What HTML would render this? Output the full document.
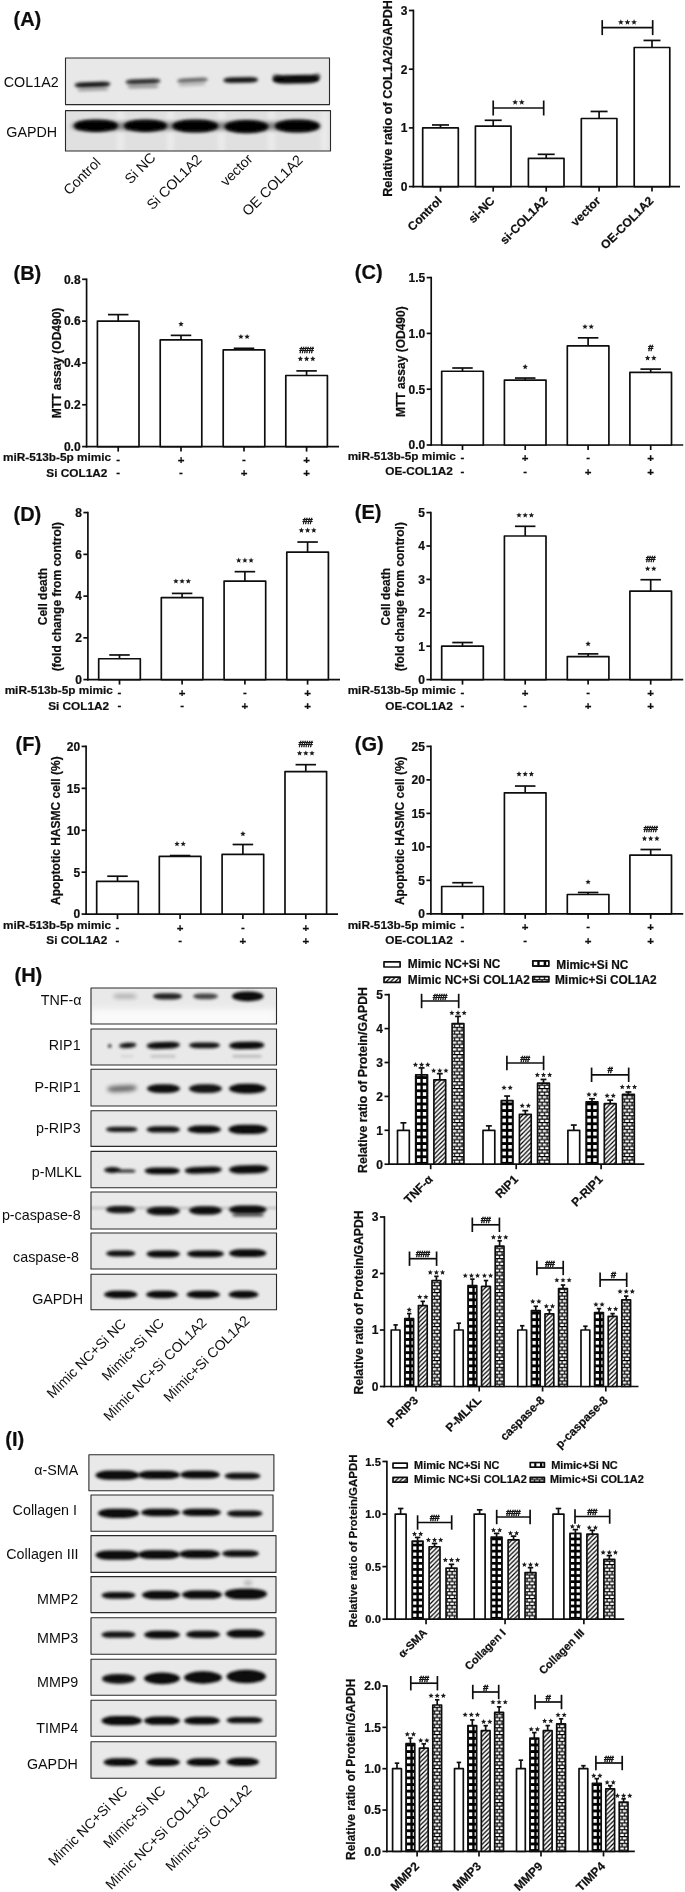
<!DOCTYPE html>
<html><head><meta charset="utf-8"><title>Figure</title>
<style>html,body{margin:0;padding:0;background:#fff}svg{display:block}</style></head>
<body>
<svg width="685" height="1892" viewBox="0 0 685 1892" font-family="'Liberation Sans', sans-serif">
<defs>
<filter id="b1" x="-30%" y="-80%" width="160%" height="260%"><feGaussianBlur stdDeviation="1.35"/></filter>
<filter id="b15" x="-30%" y="-80%" width="160%" height="260%"><feGaussianBlur stdDeviation="1.6"/></filter>
<filter id="b2" x="-30%" y="-80%" width="160%" height="260%"><feGaussianBlur stdDeviation="2"/></filter>
<filter id="b3" x="-30%" y="-80%" width="160%" height="260%"><feGaussianBlur stdDeviation="3"/></filter>
<filter id="soft"><feGaussianBlur stdDeviation="0.35"/></filter>
<pattern id="pgrid" width="6.4" height="6.8" patternUnits="userSpaceOnUse" x="0" y="0">
  <rect width="6.4" height="6.8" fill="#000"/><rect x="1.5" y="1.6" width="3.6" height="3.6" fill="#fff"/>
</pattern>
<pattern id="lgrid" width="5.6" height="20" patternUnits="userSpaceOnUse" x="1.2" y="0">
  <rect width="5.6" height="20" fill="#000"/><rect x="1.4" y="0" width="3.4" height="20" fill="#fff"/>
</pattern>
<pattern id="pdiag" width="4.5" height="4.5" patternUnits="userSpaceOnUse">
  <rect width="4.5" height="4.5" fill="#fff"/>
  <path d="M-1,1 L1,-1 M-0.5,5 L5,-0.5 M3.5,5.5 L5.5,3.5" stroke="#000" stroke-width="1.25"/>
</pattern>
<pattern id="pbrick" width="5" height="6.8" patternUnits="userSpaceOnUse" x="0.8" y="0">
  <rect width="5" height="6.8" fill="#fff"/>
  <path d="M0,0.6 H5 M0,4 H5" stroke="#000" stroke-width="1.25"/>
  <path d="M1.2,0.6 V4 M3.7,4 V6.8 M3.7,0 V0.6" stroke="#000" stroke-width="1.2"/>
</pattern>
</defs>
<rect width="685" height="1892" fill="#fff"/>
<g filter="url(#soft)">
<text x="13.50" y="25.50" font-size="20" font-weight="bold" stroke="#111" stroke-width="0.22" text-anchor="start" fill="#111">(A)</text>
<clipPath id="c2"><rect x="65.5" y="58" width="264" height="46.6"/></clipPath>
<rect x="65.50" y="58.00" width="264.00" height="46.60" fill="#e8e8e8" stroke="none" stroke-width="0" stroke-linejoin="round"/>
<g clip-path="url(#c2)">
<rect x="74.50" y="82.00" width="36.00" height="5.20" rx="7.80" ry="2.60" fill="#000" opacity="0.9" filter="url(#b1)" transform="rotate(-2 92.5 84.6)"/>
<rect x="77.50" y="88.10" width="31.00" height="3.00" rx="4.50" ry="1.50" fill="#000" opacity="0.3" filter="url(#b1)" transform="rotate(-2 93 89.6)"/>
<rect x="125.50" y="79.10" width="35.00" height="4.80" rx="7.20" ry="2.40" fill="#000" opacity="0.8" filter="url(#b1)" transform="rotate(-2 143 81.5)"/>
<rect x="127.50" y="84.75" width="31.00" height="3.50" rx="5.25" ry="1.75" fill="#000" opacity="0.35" filter="url(#b1)" transform="rotate(-1 143 86.5)"/>
<rect x="177.00" y="78.10" width="31.00" height="4.20" rx="6.30" ry="2.10" fill="#000" opacity="0.55" filter="url(#b1)" transform="rotate(-3 192.5 80.2)"/>
<rect x="178.50" y="83.00" width="27.00" height="3.00" rx="4.50" ry="1.50" fill="#000" opacity="0.2" filter="url(#b1)" transform="rotate(-3 192 84.5)"/>
<rect x="223.20" y="77.20" width="35.00" height="5.60" rx="8.40" ry="2.80" fill="#000" opacity="0.92" filter="url(#b1)" transform="rotate(-1 240.7 80)"/>
<rect x="272.50" y="74.90" width="47.00" height="8.60" rx="12.90" ry="4.30" fill="#000" opacity="0.97" filter="url(#b1)" transform="rotate(-1 296 79.2)"/>
<rect x="272.50" y="74.50" width="9.00" height="6.00" rx="4.50" ry="3.00" fill="#000" opacity="0.6" filter="url(#b1)" transform="rotate(12 277 77.5)"/>
<rect x="311.50" y="73.80" width="9.00" height="6.00" rx="4.50" ry="3.00" fill="#000" opacity="0.6" filter="url(#b1)" transform="rotate(-14 316 76.8)"/>
</g>
<rect x="65.50" y="58.00" width="264.00" height="46.60" fill="none" stroke="#2a2a2a" stroke-width="1.1" stroke-linejoin="round"/>
<clipPath id="c17"><rect x="65.5" y="110.6" width="265" height="40.4"/></clipPath>
<rect x="65.50" y="110.60" width="265.00" height="40.40" fill="#e0e0e0" stroke="none" stroke-width="0" stroke-linejoin="round"/>
<g clip-path="url(#c17)">
<rect x="117" y="110" width="7" height="42" fill="#f4f4f4" opacity=".55" filter="url(#b2)"/><rect x="167" y="110" width="7" height="42" fill="#f4f4f4" opacity=".55" filter="url(#b2)"/><rect x="218" y="110" width="7" height="42" fill="#f4f4f4" opacity=".55" filter="url(#b2)"/><rect x="268" y="110" width="7" height="42" fill="#f4f4f4" opacity=".55" filter="url(#b2)"/><rect x="321" y="110" width="7" height="42" fill="#f4f4f4" opacity=".55" filter="url(#b2)"/>
<rect x="74.00" y="119.45" width="44.00" height="12.50" rx="18.75" ry="6.25" fill="#000" opacity="0.97" filter="url(#b1)"/>
<rect x="124.00" y="119.45" width="43.00" height="12.50" rx="18.75" ry="6.25" fill="#000" opacity="0.97" filter="url(#b1)"/>
<rect x="172.30" y="119.60" width="46.00" height="12.80" rx="19.20" ry="6.40" fill="#000" opacity="0.97" filter="url(#b1)"/>
<rect x="224.50" y="120.00" width="44.00" height="13.20" rx="19.80" ry="6.60" fill="#000" opacity="0.97" filter="url(#b1)"/>
<rect x="274.80" y="119.60" width="45.00" height="12.80" rx="19.20" ry="6.40" fill="#000" opacity="0.97" filter="url(#b1)"/>
<rect x="71.00" y="122.00" width="250.00" height="8.00" rx="12.00" ry="4.00" fill="#000" opacity="0.45" filter="url(#b2)"/>
</g>
<rect x="65.50" y="110.60" width="265.00" height="40.40" fill="none" stroke="#2a2a2a" stroke-width="1.1" stroke-linejoin="round"/>
<text x="3.80" y="87.30" font-size="14.3" text-anchor="start" fill="#111">COL1A2</text>
<text x="6.30" y="136.80" font-size="14.3" text-anchor="start" fill="#111">GAPDH</text>
<text x="101.50" y="163.50" font-size="14.2" text-anchor="end" fill="#111" transform="rotate(-45 101.50 163.50)">Control</text>
<text x="156.60" y="158.60" font-size="14.2" text-anchor="end" fill="#111" transform="rotate(-45 156.60 158.60)">Si NC</text>
<text x="202.70" y="160.40" font-size="14.2" text-anchor="end" fill="#111" transform="rotate(-45 202.70 160.40)">Si COL1A2</text>
<text x="253.50" y="159.80" font-size="14.2" text-anchor="end" fill="#111" transform="rotate(-45 253.50 159.80)">vector</text>
<text x="303.70" y="161.00" font-size="14.2" text-anchor="end" fill="#111" transform="rotate(-45 303.70 161.00)">OE COL1A2</text>
<line x1="413.40" y1="9.65" x2="413.40" y2="187.45" stroke="#111" stroke-width="1.7"/>
<line x1="412.55" y1="186.60" x2="680.00" y2="186.60" stroke="#111" stroke-width="1.7"/>
<line x1="408.90" y1="186.60" x2="413.40" y2="186.60" stroke="#111" stroke-width="1.7"/>
<text x="407.40" y="190.92" font-size="12" font-weight="bold" stroke="#111" stroke-width="0.22" text-anchor="end" fill="#111">0</text>
<line x1="408.90" y1="127.90" x2="413.40" y2="127.90" stroke="#111" stroke-width="1.7"/>
<text x="407.40" y="132.22" font-size="12" font-weight="bold" stroke="#111" stroke-width="0.22" text-anchor="end" fill="#111">1</text>
<line x1="408.90" y1="69.20" x2="413.40" y2="69.20" stroke="#111" stroke-width="1.7"/>
<text x="407.40" y="73.52" font-size="12" font-weight="bold" stroke="#111" stroke-width="0.22" text-anchor="end" fill="#111">2</text>
<line x1="408.90" y1="10.50" x2="413.40" y2="10.50" stroke="#111" stroke-width="1.7"/>
<text x="407.40" y="14.82" font-size="12" font-weight="bold" stroke="#111" stroke-width="0.22" text-anchor="end" fill="#111">3</text>
<line x1="440.50" y1="124.97" x2="440.50" y2="127.90" stroke="#111" stroke-width="1.7"/>
<line x1="432.00" y1="124.97" x2="449.00" y2="124.97" stroke="#111" stroke-width="1.7"/>
<rect x="422.70" y="127.90" width="35.60" height="58.70" fill="#fff" stroke="#111" stroke-width="1.7" stroke-linejoin="round"/>
<line x1="440.50" y1="186.60" x2="440.50" y2="191.60" stroke="#111" stroke-width="1.7"/>
<line x1="493.20" y1="120.27" x2="493.20" y2="126.14" stroke="#111" stroke-width="1.7"/>
<line x1="484.70" y1="120.27" x2="501.70" y2="120.27" stroke="#111" stroke-width="1.7"/>
<rect x="475.40" y="126.14" width="35.60" height="60.46" fill="#fff" stroke="#111" stroke-width="1.7" stroke-linejoin="round"/>
<line x1="493.20" y1="186.60" x2="493.20" y2="191.60" stroke="#111" stroke-width="1.7"/>
<line x1="546.20" y1="154.31" x2="546.20" y2="158.42" stroke="#111" stroke-width="1.7"/>
<line x1="537.70" y1="154.31" x2="554.70" y2="154.31" stroke="#111" stroke-width="1.7"/>
<rect x="528.40" y="158.42" width="35.60" height="28.18" fill="#fff" stroke="#111" stroke-width="1.7" stroke-linejoin="round"/>
<line x1="546.20" y1="186.60" x2="546.20" y2="191.60" stroke="#111" stroke-width="1.7"/>
<line x1="599.10" y1="111.46" x2="599.10" y2="118.51" stroke="#111" stroke-width="1.7"/>
<line x1="590.60" y1="111.46" x2="607.60" y2="111.46" stroke="#111" stroke-width="1.7"/>
<rect x="581.30" y="118.51" width="35.60" height="68.09" fill="#fff" stroke="#111" stroke-width="1.7" stroke-linejoin="round"/>
<line x1="599.10" y1="186.60" x2="599.10" y2="191.60" stroke="#111" stroke-width="1.7"/>
<line x1="652.00" y1="40.44" x2="652.00" y2="47.48" stroke="#111" stroke-width="1.7"/>
<line x1="643.50" y1="40.44" x2="660.50" y2="40.44" stroke="#111" stroke-width="1.7"/>
<rect x="634.20" y="47.48" width="35.60" height="139.12" fill="#fff" stroke="#111" stroke-width="1.7" stroke-linejoin="round"/>
<line x1="652.00" y1="186.60" x2="652.00" y2="191.60" stroke="#111" stroke-width="1.7"/>
<line x1="493.20" y1="108.00" x2="543.70" y2="108.00" stroke="#111" stroke-width="1.7"/>
<line x1="493.20" y1="100.50" x2="493.20" y2="115.50" stroke="#111" stroke-width="1.7"/>
<line x1="543.70" y1="100.50" x2="543.70" y2="115.50" stroke="#111" stroke-width="1.7"/>
<polygon points="515.15,99.25 515.94,101.16 518.00,101.32 516.43,102.67 516.91,104.68 515.15,103.60 513.39,104.68 513.87,102.67 512.30,101.32 514.36,101.16" fill="#1a1a1a"/>
<polygon points="521.75,99.25 522.54,101.16 524.60,101.32 523.03,102.67 523.51,104.68 521.75,103.60 519.99,104.68 520.47,102.67 518.90,101.32 520.96,101.16" fill="#1a1a1a"/>
<line x1="602.20" y1="27.60" x2="652.70" y2="27.60" stroke="#111" stroke-width="1.7"/>
<line x1="602.20" y1="20.10" x2="602.20" y2="35.10" stroke="#111" stroke-width="1.7"/>
<line x1="652.70" y1="20.10" x2="652.70" y2="35.10" stroke="#111" stroke-width="1.7"/>
<polygon points="620.85,19.25 621.64,21.16 623.70,21.32 622.13,22.67 622.61,24.68 620.85,23.60 619.09,24.68 619.57,22.67 618.00,21.32 620.06,21.16" fill="#1a1a1a"/>
<polygon points="627.45,19.25 628.24,21.16 630.30,21.32 628.73,22.67 629.21,24.68 627.45,23.60 625.69,24.68 626.17,22.67 624.60,21.32 626.66,21.16" fill="#1a1a1a"/>
<polygon points="634.05,19.25 634.84,21.16 636.90,21.32 635.33,22.67 635.81,24.68 634.05,23.60 632.29,24.68 632.77,22.67 631.20,21.32 633.26,21.16" fill="#1a1a1a"/>
<text x="391.60" y="196.80" font-size="12.6" font-weight="bold" stroke="#111" stroke-width="0.22" text-anchor="start" fill="#111" transform="rotate(-90 391.60 196.80)">Relative ratio of COL1A2/GAPDH</text>
<text x="442.70" y="201.50" font-size="12" font-weight="bold" stroke="#111" stroke-width="0.22" text-anchor="end" fill="#111" transform="rotate(-45 442.70 201.50)">Control</text>
<text x="495.40" y="201.50" font-size="12" font-weight="bold" stroke="#111" stroke-width="0.22" text-anchor="end" fill="#111" transform="rotate(-45 495.40 201.50)">si-NC</text>
<text x="548.40" y="201.50" font-size="12" font-weight="bold" stroke="#111" stroke-width="0.22" text-anchor="end" fill="#111" transform="rotate(-45 548.40 201.50)">si-COL1A2</text>
<text x="601.30" y="201.50" font-size="12" font-weight="bold" stroke="#111" stroke-width="0.22" text-anchor="end" fill="#111" transform="rotate(-45 601.30 201.50)">vector</text>
<text x="654.20" y="201.50" font-size="12" font-weight="bold" stroke="#111" stroke-width="0.22" text-anchor="end" fill="#111" transform="rotate(-45 654.20 201.50)">OE-COL1A2</text>
<text x="13.50" y="280.30" font-size="20" font-weight="bold" stroke="#111" stroke-width="0.22" text-anchor="start" fill="#111">(B)</text>
<line x1="86.60" y1="278.45" x2="86.60" y2="447.45" stroke="#111" stroke-width="1.7"/>
<line x1="85.75" y1="446.60" x2="339.00" y2="446.60" stroke="#111" stroke-width="1.7"/>
<line x1="82.10" y1="446.60" x2="86.60" y2="446.60" stroke="#111" stroke-width="1.7"/>
<text x="80.60" y="450.92" font-size="12" font-weight="bold" stroke="#111" stroke-width="0.22" text-anchor="end" fill="#111">0.0</text>
<line x1="82.10" y1="404.78" x2="86.60" y2="404.78" stroke="#111" stroke-width="1.7"/>
<text x="80.60" y="409.10" font-size="12" font-weight="bold" stroke="#111" stroke-width="0.22" text-anchor="end" fill="#111">0.2</text>
<line x1="82.10" y1="362.95" x2="86.60" y2="362.95" stroke="#111" stroke-width="1.7"/>
<text x="80.60" y="367.27" font-size="12" font-weight="bold" stroke="#111" stroke-width="0.22" text-anchor="end" fill="#111">0.4</text>
<line x1="82.10" y1="321.12" x2="86.60" y2="321.12" stroke="#111" stroke-width="1.7"/>
<text x="80.60" y="325.44" font-size="12" font-weight="bold" stroke="#111" stroke-width="0.22" text-anchor="end" fill="#111">0.6</text>
<line x1="82.10" y1="279.30" x2="86.60" y2="279.30" stroke="#111" stroke-width="1.7"/>
<text x="80.60" y="283.62" font-size="12" font-weight="bold" stroke="#111" stroke-width="0.22" text-anchor="end" fill="#111">0.8</text>
<line x1="118.20" y1="314.64" x2="118.20" y2="321.12" stroke="#111" stroke-width="1.7"/>
<line x1="107.95" y1="314.64" x2="128.45" y2="314.64" stroke="#111" stroke-width="1.7"/>
<rect x="97.40" y="321.12" width="41.60" height="125.48" fill="#fff" stroke="#111" stroke-width="1.7" stroke-linejoin="round"/>
<line x1="118.20" y1="446.60" x2="118.20" y2="451.60" stroke="#111" stroke-width="1.7"/>
<line x1="181.00" y1="335.35" x2="181.00" y2="339.95" stroke="#111" stroke-width="1.7"/>
<line x1="170.75" y1="335.35" x2="191.25" y2="335.35" stroke="#111" stroke-width="1.7"/>
<rect x="160.20" y="339.95" width="41.60" height="106.65" fill="#fff" stroke="#111" stroke-width="1.7" stroke-linejoin="round"/>
<line x1="181.00" y1="446.60" x2="181.00" y2="451.60" stroke="#111" stroke-width="1.7"/>
<line x1="244.00" y1="348.31" x2="244.00" y2="349.84" stroke="#111" stroke-width="1.7"/>
<line x1="233.75" y1="348.31" x2="254.25" y2="348.31" stroke="#111" stroke-width="1.7"/>
<rect x="223.20" y="349.84" width="41.60" height="96.76" fill="#fff" stroke="#111" stroke-width="1.7" stroke-linejoin="round"/>
<line x1="244.00" y1="446.60" x2="244.00" y2="451.60" stroke="#111" stroke-width="1.7"/>
<line x1="306.60" y1="370.90" x2="306.60" y2="375.50" stroke="#111" stroke-width="1.7"/>
<line x1="296.35" y1="370.90" x2="316.85" y2="370.90" stroke="#111" stroke-width="1.7"/>
<rect x="285.80" y="375.50" width="41.60" height="71.10" fill="#fff" stroke="#111" stroke-width="1.7" stroke-linejoin="round"/>
<line x1="306.60" y1="446.60" x2="306.60" y2="451.60" stroke="#111" stroke-width="1.7"/>
<polygon points="181.00,321.30 181.75,323.11 183.71,323.27 182.22,324.55 182.68,326.46 181.00,325.43 179.32,326.46 179.78,324.55 178.29,323.27 180.25,323.11" fill="#1a1a1a"/>
<polygon points="240.90,333.90 241.65,335.71 243.61,335.87 242.12,337.15 242.58,339.06 240.90,338.03 239.22,339.06 239.68,337.15 238.19,335.87 240.15,335.71" fill="#1a1a1a"/>
<polygon points="247.10,333.90 247.85,335.71 249.81,335.87 248.32,337.15 248.78,339.06 247.10,338.03 245.42,339.06 245.88,337.15 244.39,335.87 246.35,335.71" fill="#1a1a1a"/>
<text x="306.15" y="353.03" font-size="9.8" font-weight="bold" stroke="#111" stroke-width="0.45" text-anchor="middle" fill="#111" letter-spacing="-0.9">###</text>
<polygon points="300.40,356.00 301.15,357.81 303.11,357.97 301.62,359.25 302.08,361.16 300.40,360.13 298.72,361.16 299.18,359.25 297.69,357.97 299.65,357.81" fill="#1a1a1a"/>
<polygon points="306.60,356.00 307.35,357.81 309.31,357.97 307.82,359.25 308.28,361.16 306.60,360.13 304.92,361.16 305.38,359.25 303.89,357.97 305.85,357.81" fill="#1a1a1a"/>
<polygon points="312.80,356.00 313.55,357.81 315.51,357.97 314.02,359.25 314.48,361.16 312.80,360.13 311.12,361.16 311.58,359.25 310.09,357.97 312.05,357.81" fill="#1a1a1a"/>
<text x="61.00" y="363.00" font-size="12" font-weight="bold" stroke="#111" stroke-width="0.22" text-anchor="middle" fill="#111" transform="rotate(-90 61.00 363.00)">MTT assay (OD490)</text>
<text x="111.10" y="461.00" font-size="11.8" font-weight="bold" stroke="#111" stroke-width="0.22" text-anchor="end" fill="#111">miR-513b-5p mimic</text>
<text x="118.20" y="462.60" font-size="11.5" font-weight="bold" stroke="#111" stroke-width="0.22" text-anchor="middle" fill="#111">-</text>
<text x="181.00" y="463.70" font-size="11.5" font-weight="bold" stroke="#111" stroke-width="0.22" text-anchor="middle" fill="#111">+</text>
<text x="244.00" y="462.60" font-size="11.5" font-weight="bold" stroke="#111" stroke-width="0.22" text-anchor="middle" fill="#111">-</text>
<text x="306.60" y="463.70" font-size="11.5" font-weight="bold" stroke="#111" stroke-width="0.22" text-anchor="middle" fill="#111">+</text>
<text x="107.30" y="476.80" font-size="11.8" font-weight="bold" stroke="#111" stroke-width="0.22" text-anchor="end" fill="#111">Si COL1A2</text>
<text x="118.20" y="475.90" font-size="11.5" font-weight="bold" stroke="#111" stroke-width="0.22" text-anchor="middle" fill="#111">-</text>
<text x="181.00" y="475.90" font-size="11.5" font-weight="bold" stroke="#111" stroke-width="0.22" text-anchor="middle" fill="#111">-</text>
<text x="244.00" y="477.00" font-size="11.5" font-weight="bold" stroke="#111" stroke-width="0.22" text-anchor="middle" fill="#111">+</text>
<text x="306.60" y="477.00" font-size="11.5" font-weight="bold" stroke="#111" stroke-width="0.22" text-anchor="middle" fill="#111">+</text>
<text x="354.80" y="279.20" font-size="20" font-weight="bold" stroke="#111" stroke-width="0.22" text-anchor="start" fill="#111">(C)</text>
<line x1="431.20" y1="276.75" x2="431.20" y2="445.85" stroke="#111" stroke-width="1.7"/>
<line x1="430.35" y1="445.00" x2="683.20" y2="445.00" stroke="#111" stroke-width="1.7"/>
<line x1="426.70" y1="445.00" x2="431.20" y2="445.00" stroke="#111" stroke-width="1.7"/>
<text x="425.20" y="449.32" font-size="12" font-weight="bold" stroke="#111" stroke-width="0.22" text-anchor="end" fill="#111">0.0</text>
<line x1="426.70" y1="389.20" x2="431.20" y2="389.20" stroke="#111" stroke-width="1.7"/>
<text x="425.20" y="393.52" font-size="12" font-weight="bold" stroke="#111" stroke-width="0.22" text-anchor="end" fill="#111">0.5</text>
<line x1="426.70" y1="333.40" x2="431.20" y2="333.40" stroke="#111" stroke-width="1.7"/>
<text x="425.20" y="337.72" font-size="12" font-weight="bold" stroke="#111" stroke-width="0.22" text-anchor="end" fill="#111">1.0</text>
<line x1="426.70" y1="277.60" x2="431.20" y2="277.60" stroke="#111" stroke-width="1.7"/>
<text x="425.20" y="281.92" font-size="12" font-weight="bold" stroke="#111" stroke-width="0.22" text-anchor="end" fill="#111">1.5</text>
<line x1="462.50" y1="368.00" x2="462.50" y2="371.23" stroke="#111" stroke-width="1.7"/>
<line x1="452.25" y1="368.00" x2="472.75" y2="368.00" stroke="#111" stroke-width="1.7"/>
<rect x="441.70" y="371.23" width="41.60" height="73.77" fill="#fff" stroke="#111" stroke-width="1.7" stroke-linejoin="round"/>
<line x1="462.50" y1="445.00" x2="462.50" y2="450.00" stroke="#111" stroke-width="1.7"/>
<line x1="525.20" y1="378.04" x2="525.20" y2="380.05" stroke="#111" stroke-width="1.7"/>
<line x1="514.95" y1="378.04" x2="535.45" y2="378.04" stroke="#111" stroke-width="1.7"/>
<rect x="504.40" y="380.05" width="41.60" height="64.95" fill="#fff" stroke="#111" stroke-width="1.7" stroke-linejoin="round"/>
<line x1="525.20" y1="445.00" x2="525.20" y2="450.00" stroke="#111" stroke-width="1.7"/>
<line x1="588.10" y1="337.86" x2="588.10" y2="345.90" stroke="#111" stroke-width="1.7"/>
<line x1="577.85" y1="337.86" x2="598.35" y2="337.86" stroke="#111" stroke-width="1.7"/>
<rect x="567.30" y="345.90" width="41.60" height="99.10" fill="#fff" stroke="#111" stroke-width="1.7" stroke-linejoin="round"/>
<line x1="588.10" y1="445.00" x2="588.10" y2="450.00" stroke="#111" stroke-width="1.7"/>
<line x1="650.70" y1="369.11" x2="650.70" y2="372.46" stroke="#111" stroke-width="1.7"/>
<line x1="640.45" y1="369.11" x2="660.95" y2="369.11" stroke="#111" stroke-width="1.7"/>
<rect x="629.90" y="372.46" width="41.60" height="72.54" fill="#fff" stroke="#111" stroke-width="1.7" stroke-linejoin="round"/>
<line x1="650.70" y1="445.00" x2="650.70" y2="450.00" stroke="#111" stroke-width="1.7"/>
<polygon points="525.20,364.00 525.95,365.81 527.91,365.97 526.42,367.25 526.88,369.16 525.20,368.13 523.52,369.16 523.98,367.25 522.49,365.97 524.45,365.81" fill="#1a1a1a"/>
<polygon points="585.00,323.90 585.75,325.71 587.71,325.87 586.22,327.15 586.68,329.06 585.00,328.03 583.32,329.06 583.78,327.15 582.29,325.87 584.25,325.71" fill="#1a1a1a"/>
<polygon points="591.20,323.90 591.95,325.71 593.91,325.87 592.42,327.15 592.88,329.06 591.20,328.03 589.52,329.06 589.98,327.15 588.49,325.87 590.45,325.71" fill="#1a1a1a"/>
<text x="650.25" y="350.83" font-size="9.8" font-weight="bold" stroke="#111" stroke-width="0.45" text-anchor="middle" fill="#111" letter-spacing="-0.9">#</text>
<polygon points="647.60,355.30 648.35,357.11 650.31,357.27 648.82,358.55 649.28,360.46 647.60,359.43 645.92,360.46 646.38,358.55 644.89,357.27 646.85,357.11" fill="#1a1a1a"/>
<polygon points="653.80,355.30 654.55,357.11 656.51,357.27 655.02,358.55 655.48,360.46 653.80,359.43 652.12,360.46 652.58,358.55 651.09,357.27 653.05,357.11" fill="#1a1a1a"/>
<text x="405.00" y="361.70" font-size="12" font-weight="bold" stroke="#111" stroke-width="0.22" text-anchor="middle" fill="#111" transform="rotate(-90 405.00 361.70)">MTT assay (OD490)</text>
<text x="455.80" y="459.60" font-size="11.8" font-weight="bold" stroke="#111" stroke-width="0.22" text-anchor="end" fill="#111">miR-513b-5p mimic</text>
<text x="462.50" y="461.30" font-size="11.5" font-weight="bold" stroke="#111" stroke-width="0.22" text-anchor="middle" fill="#111">-</text>
<text x="525.20" y="462.40" font-size="11.5" font-weight="bold" stroke="#111" stroke-width="0.22" text-anchor="middle" fill="#111">+</text>
<text x="588.10" y="461.30" font-size="11.5" font-weight="bold" stroke="#111" stroke-width="0.22" text-anchor="middle" fill="#111">-</text>
<text x="650.70" y="462.40" font-size="11.5" font-weight="bold" stroke="#111" stroke-width="0.22" text-anchor="middle" fill="#111">+</text>
<text x="452.80" y="474.90" font-size="11.8" font-weight="bold" stroke="#111" stroke-width="0.22" text-anchor="end" fill="#111">OE-COL1A2</text>
<text x="462.50" y="474.50" font-size="11.5" font-weight="bold" stroke="#111" stroke-width="0.22" text-anchor="middle" fill="#111">-</text>
<text x="525.20" y="474.50" font-size="11.5" font-weight="bold" stroke="#111" stroke-width="0.22" text-anchor="middle" fill="#111">-</text>
<text x="588.10" y="475.60" font-size="11.5" font-weight="bold" stroke="#111" stroke-width="0.22" text-anchor="middle" fill="#111">+</text>
<text x="650.70" y="475.60" font-size="11.5" font-weight="bold" stroke="#111" stroke-width="0.22" text-anchor="middle" fill="#111">+</text>
<text x="13.50" y="521.00" font-size="20" font-weight="bold" stroke="#111" stroke-width="0.22" text-anchor="start" fill="#111">(D)</text>
<line x1="87.90" y1="511.75" x2="87.90" y2="680.45" stroke="#111" stroke-width="1.7"/>
<line x1="87.05" y1="679.60" x2="340.00" y2="679.60" stroke="#111" stroke-width="1.7"/>
<line x1="83.40" y1="679.60" x2="87.90" y2="679.60" stroke="#111" stroke-width="1.7"/>
<text x="81.90" y="683.92" font-size="12" font-weight="bold" stroke="#111" stroke-width="0.22" text-anchor="end" fill="#111">0</text>
<line x1="83.40" y1="637.85" x2="87.90" y2="637.85" stroke="#111" stroke-width="1.7"/>
<text x="81.90" y="642.17" font-size="12" font-weight="bold" stroke="#111" stroke-width="0.22" text-anchor="end" fill="#111">2</text>
<line x1="83.40" y1="596.10" x2="87.90" y2="596.10" stroke="#111" stroke-width="1.7"/>
<text x="81.90" y="600.42" font-size="12" font-weight="bold" stroke="#111" stroke-width="0.22" text-anchor="end" fill="#111">4</text>
<line x1="83.40" y1="554.35" x2="87.90" y2="554.35" stroke="#111" stroke-width="1.7"/>
<text x="81.90" y="558.67" font-size="12" font-weight="bold" stroke="#111" stroke-width="0.22" text-anchor="end" fill="#111">6</text>
<line x1="83.40" y1="512.60" x2="87.90" y2="512.60" stroke="#111" stroke-width="1.7"/>
<text x="81.90" y="516.92" font-size="12" font-weight="bold" stroke="#111" stroke-width="0.22" text-anchor="end" fill="#111">8</text>
<line x1="119.50" y1="654.97" x2="119.50" y2="658.73" stroke="#111" stroke-width="1.7"/>
<line x1="109.25" y1="654.97" x2="129.75" y2="654.97" stroke="#111" stroke-width="1.7"/>
<rect x="98.70" y="658.73" width="41.60" height="20.88" fill="#fff" stroke="#111" stroke-width="1.7" stroke-linejoin="round"/>
<line x1="119.50" y1="679.60" x2="119.50" y2="684.60" stroke="#111" stroke-width="1.7"/>
<line x1="182.10" y1="593.39" x2="182.10" y2="597.56" stroke="#111" stroke-width="1.7"/>
<line x1="171.85" y1="593.39" x2="192.35" y2="593.39" stroke="#111" stroke-width="1.7"/>
<rect x="161.30" y="597.56" width="41.60" height="82.04" fill="#fff" stroke="#111" stroke-width="1.7" stroke-linejoin="round"/>
<line x1="182.10" y1="679.60" x2="182.10" y2="684.60" stroke="#111" stroke-width="1.7"/>
<line x1="244.90" y1="571.68" x2="244.90" y2="581.07" stroke="#111" stroke-width="1.7"/>
<line x1="234.65" y1="571.68" x2="255.15" y2="571.68" stroke="#111" stroke-width="1.7"/>
<rect x="224.10" y="581.07" width="41.60" height="98.53" fill="#fff" stroke="#111" stroke-width="1.7" stroke-linejoin="round"/>
<line x1="244.90" y1="679.60" x2="244.90" y2="684.60" stroke="#111" stroke-width="1.7"/>
<line x1="307.60" y1="542.03" x2="307.60" y2="552.05" stroke="#111" stroke-width="1.7"/>
<line x1="297.35" y1="542.03" x2="317.85" y2="542.03" stroke="#111" stroke-width="1.7"/>
<rect x="286.80" y="552.05" width="41.60" height="127.55" fill="#fff" stroke="#111" stroke-width="1.7" stroke-linejoin="round"/>
<line x1="307.60" y1="679.60" x2="307.60" y2="684.60" stroke="#111" stroke-width="1.7"/>
<polygon points="175.90,578.40 176.65,580.21 178.61,580.37 177.12,581.65 177.58,583.56 175.90,582.53 174.22,583.56 174.68,581.65 173.19,580.37 175.15,580.21" fill="#1a1a1a"/>
<polygon points="182.10,578.40 182.85,580.21 184.81,580.37 183.32,581.65 183.78,583.56 182.10,582.53 180.42,583.56 180.88,581.65 179.39,580.37 181.35,580.21" fill="#1a1a1a"/>
<polygon points="188.30,578.40 189.05,580.21 191.01,580.37 189.52,581.65 189.98,583.56 188.30,582.53 186.62,583.56 187.08,581.65 185.59,580.37 187.55,580.21" fill="#1a1a1a"/>
<polygon points="238.70,557.60 239.45,559.41 241.41,559.57 239.92,560.85 240.38,562.76 238.70,561.73 237.02,562.76 237.48,560.85 235.99,559.57 237.95,559.41" fill="#1a1a1a"/>
<polygon points="244.90,557.60 245.65,559.41 247.61,559.57 246.12,560.85 246.58,562.76 244.90,561.73 243.22,562.76 243.68,560.85 242.19,559.57 244.15,559.41" fill="#1a1a1a"/>
<polygon points="251.10,557.60 251.85,559.41 253.81,559.57 252.32,560.85 252.78,562.76 251.10,561.73 249.42,562.76 249.88,560.85 248.39,559.57 250.35,559.41" fill="#1a1a1a"/>
<text x="307.15" y="524.33" font-size="9.8" font-weight="bold" stroke="#111" stroke-width="0.45" text-anchor="middle" fill="#111" letter-spacing="-0.9">##</text>
<polygon points="301.40,527.50 302.15,529.31 304.11,529.47 302.62,530.75 303.08,532.66 301.40,531.63 299.72,532.66 300.18,530.75 298.69,529.47 300.65,529.31" fill="#1a1a1a"/>
<polygon points="307.60,527.50 308.35,529.31 310.31,529.47 308.82,530.75 309.28,532.66 307.60,531.63 305.92,532.66 306.38,530.75 304.89,529.47 306.85,529.31" fill="#1a1a1a"/>
<polygon points="313.80,527.50 314.55,529.31 316.51,529.47 315.02,530.75 315.48,532.66 313.80,531.63 312.12,532.66 312.58,530.75 311.09,529.47 313.05,529.31" fill="#1a1a1a"/>
<text x="47.20" y="596.60" font-size="12" font-weight="bold" stroke="#111" stroke-width="0.22" text-anchor="middle" fill="#111" transform="rotate(-90 47.20 596.60)">Cell death</text>
<text x="61.00" y="596.60" font-size="12" font-weight="bold" stroke="#111" stroke-width="0.22" text-anchor="middle" fill="#111" transform="rotate(-90 61.00 596.60)">(fold change from control)</text>
<text x="112.80" y="694.10" font-size="11.8" font-weight="bold" stroke="#111" stroke-width="0.22" text-anchor="end" fill="#111">miR-513b-5p mimic</text>
<text x="119.50" y="695.80" font-size="11.5" font-weight="bold" stroke="#111" stroke-width="0.22" text-anchor="middle" fill="#111">-</text>
<text x="182.10" y="696.90" font-size="11.5" font-weight="bold" stroke="#111" stroke-width="0.22" text-anchor="middle" fill="#111">+</text>
<text x="244.90" y="695.80" font-size="11.5" font-weight="bold" stroke="#111" stroke-width="0.22" text-anchor="middle" fill="#111">-</text>
<text x="307.60" y="696.90" font-size="11.5" font-weight="bold" stroke="#111" stroke-width="0.22" text-anchor="middle" fill="#111">+</text>
<text x="109.10" y="709.60" font-size="11.8" font-weight="bold" stroke="#111" stroke-width="0.22" text-anchor="end" fill="#111">Si COL1A2</text>
<text x="119.50" y="709.30" font-size="11.5" font-weight="bold" stroke="#111" stroke-width="0.22" text-anchor="middle" fill="#111">-</text>
<text x="182.10" y="709.30" font-size="11.5" font-weight="bold" stroke="#111" stroke-width="0.22" text-anchor="middle" fill="#111">-</text>
<text x="244.90" y="710.40" font-size="11.5" font-weight="bold" stroke="#111" stroke-width="0.22" text-anchor="middle" fill="#111">+</text>
<text x="307.60" y="710.40" font-size="11.5" font-weight="bold" stroke="#111" stroke-width="0.22" text-anchor="middle" fill="#111">+</text>
<text x="354.80" y="519.30" font-size="20" font-weight="bold" stroke="#111" stroke-width="0.22" text-anchor="start" fill="#111">(E)</text>
<line x1="430.90" y1="511.75" x2="430.90" y2="680.45" stroke="#111" stroke-width="1.7"/>
<line x1="430.05" y1="679.60" x2="683.20" y2="679.60" stroke="#111" stroke-width="1.7"/>
<line x1="426.40" y1="679.60" x2="430.90" y2="679.60" stroke="#111" stroke-width="1.7"/>
<text x="424.90" y="683.92" font-size="12" font-weight="bold" stroke="#111" stroke-width="0.22" text-anchor="end" fill="#111">0</text>
<line x1="426.40" y1="646.20" x2="430.90" y2="646.20" stroke="#111" stroke-width="1.7"/>
<text x="424.90" y="650.52" font-size="12" font-weight="bold" stroke="#111" stroke-width="0.22" text-anchor="end" fill="#111">1</text>
<line x1="426.40" y1="612.80" x2="430.90" y2="612.80" stroke="#111" stroke-width="1.7"/>
<text x="424.90" y="617.12" font-size="12" font-weight="bold" stroke="#111" stroke-width="0.22" text-anchor="end" fill="#111">2</text>
<line x1="426.40" y1="579.40" x2="430.90" y2="579.40" stroke="#111" stroke-width="1.7"/>
<text x="424.90" y="583.72" font-size="12" font-weight="bold" stroke="#111" stroke-width="0.22" text-anchor="end" fill="#111">3</text>
<line x1="426.40" y1="546.00" x2="430.90" y2="546.00" stroke="#111" stroke-width="1.7"/>
<text x="424.90" y="550.32" font-size="12" font-weight="bold" stroke="#111" stroke-width="0.22" text-anchor="end" fill="#111">4</text>
<line x1="426.40" y1="512.60" x2="430.90" y2="512.60" stroke="#111" stroke-width="1.7"/>
<text x="424.90" y="516.92" font-size="12" font-weight="bold" stroke="#111" stroke-width="0.22" text-anchor="end" fill="#111">5</text>
<line x1="462.50" y1="642.53" x2="462.50" y2="646.20" stroke="#111" stroke-width="1.7"/>
<line x1="452.25" y1="642.53" x2="472.75" y2="642.53" stroke="#111" stroke-width="1.7"/>
<rect x="441.70" y="646.20" width="41.60" height="33.40" fill="#fff" stroke="#111" stroke-width="1.7" stroke-linejoin="round"/>
<line x1="462.50" y1="679.60" x2="462.50" y2="684.60" stroke="#111" stroke-width="1.7"/>
<line x1="525.20" y1="526.29" x2="525.20" y2="535.98" stroke="#111" stroke-width="1.7"/>
<line x1="514.95" y1="526.29" x2="535.45" y2="526.29" stroke="#111" stroke-width="1.7"/>
<rect x="504.40" y="535.98" width="41.60" height="143.62" fill="#fff" stroke="#111" stroke-width="1.7" stroke-linejoin="round"/>
<line x1="525.20" y1="679.60" x2="525.20" y2="684.60" stroke="#111" stroke-width="1.7"/>
<line x1="588.10" y1="653.88" x2="588.10" y2="656.55" stroke="#111" stroke-width="1.7"/>
<line x1="577.85" y1="653.88" x2="598.35" y2="653.88" stroke="#111" stroke-width="1.7"/>
<rect x="567.30" y="656.55" width="41.60" height="23.05" fill="#fff" stroke="#111" stroke-width="1.7" stroke-linejoin="round"/>
<line x1="588.10" y1="679.60" x2="588.10" y2="684.60" stroke="#111" stroke-width="1.7"/>
<line x1="650.70" y1="579.73" x2="650.70" y2="591.09" stroke="#111" stroke-width="1.7"/>
<line x1="640.45" y1="579.73" x2="660.95" y2="579.73" stroke="#111" stroke-width="1.7"/>
<rect x="629.90" y="591.09" width="41.60" height="88.51" fill="#fff" stroke="#111" stroke-width="1.7" stroke-linejoin="round"/>
<line x1="650.70" y1="679.60" x2="650.70" y2="684.60" stroke="#111" stroke-width="1.7"/>
<polygon points="519.00,512.40 519.75,514.21 521.71,514.37 520.22,515.65 520.68,517.56 519.00,516.53 517.32,517.56 517.78,515.65 516.29,514.37 518.25,514.21" fill="#1a1a1a"/>
<polygon points="525.20,512.40 525.95,514.21 527.91,514.37 526.42,515.65 526.88,517.56 525.20,516.53 523.52,517.56 523.98,515.65 522.49,514.37 524.45,514.21" fill="#1a1a1a"/>
<polygon points="531.40,512.40 532.15,514.21 534.11,514.37 532.62,515.65 533.08,517.56 531.40,516.53 529.72,517.56 530.18,515.65 528.69,514.37 530.65,514.21" fill="#1a1a1a"/>
<polygon points="588.10,641.00 588.85,642.81 590.81,642.97 589.32,644.25 589.78,646.16 588.10,645.13 586.42,646.16 586.88,644.25 585.39,642.97 587.35,642.81" fill="#1a1a1a"/>
<text x="650.25" y="561.73" font-size="9.8" font-weight="bold" stroke="#111" stroke-width="0.45" text-anchor="middle" fill="#111" letter-spacing="-0.9">##</text>
<polygon points="647.60,565.90 648.35,567.71 650.31,567.87 648.82,569.15 649.28,571.06 647.60,570.03 645.92,571.06 646.38,569.15 644.89,567.87 646.85,567.71" fill="#1a1a1a"/>
<polygon points="653.80,565.90 654.55,567.71 656.51,567.87 655.02,569.15 655.48,571.06 653.80,570.03 652.12,571.06 652.58,569.15 651.09,567.87 653.05,567.71" fill="#1a1a1a"/>
<text x="390.20" y="596.70" font-size="12" font-weight="bold" stroke="#111" stroke-width="0.22" text-anchor="middle" fill="#111" transform="rotate(-90 390.20 596.70)">Cell death</text>
<text x="404.00" y="596.70" font-size="12" font-weight="bold" stroke="#111" stroke-width="0.22" text-anchor="middle" fill="#111" transform="rotate(-90 404.00 596.70)">(fold change from control)</text>
<text x="455.80" y="694.10" font-size="11.8" font-weight="bold" stroke="#111" stroke-width="0.22" text-anchor="end" fill="#111">miR-513b-5p mimic</text>
<text x="462.50" y="695.90" font-size="11.5" font-weight="bold" stroke="#111" stroke-width="0.22" text-anchor="middle" fill="#111">-</text>
<text x="525.20" y="697.00" font-size="11.5" font-weight="bold" stroke="#111" stroke-width="0.22" text-anchor="middle" fill="#111">+</text>
<text x="588.10" y="695.90" font-size="11.5" font-weight="bold" stroke="#111" stroke-width="0.22" text-anchor="middle" fill="#111">-</text>
<text x="650.70" y="697.00" font-size="11.5" font-weight="bold" stroke="#111" stroke-width="0.22" text-anchor="middle" fill="#111">+</text>
<text x="452.80" y="709.60" font-size="11.8" font-weight="bold" stroke="#111" stroke-width="0.22" text-anchor="end" fill="#111">OE-COL1A2</text>
<text x="462.50" y="709.30" font-size="11.5" font-weight="bold" stroke="#111" stroke-width="0.22" text-anchor="middle" fill="#111">-</text>
<text x="525.20" y="709.30" font-size="11.5" font-weight="bold" stroke="#111" stroke-width="0.22" text-anchor="middle" fill="#111">-</text>
<text x="588.10" y="710.40" font-size="11.5" font-weight="bold" stroke="#111" stroke-width="0.22" text-anchor="middle" fill="#111">+</text>
<text x="650.70" y="710.40" font-size="11.5" font-weight="bold" stroke="#111" stroke-width="0.22" text-anchor="middle" fill="#111">+</text>
<text x="15.50" y="750.80" font-size="20" font-weight="bold" stroke="#111" stroke-width="0.22" text-anchor="start" fill="#111">(F)</text>
<line x1="86.10" y1="745.55" x2="86.10" y2="914.95" stroke="#111" stroke-width="1.7"/>
<line x1="85.25" y1="914.10" x2="338.00" y2="914.10" stroke="#111" stroke-width="1.7"/>
<line x1="81.60" y1="914.10" x2="86.10" y2="914.10" stroke="#111" stroke-width="1.7"/>
<text x="80.10" y="918.42" font-size="12" font-weight="bold" stroke="#111" stroke-width="0.22" text-anchor="end" fill="#111">0</text>
<line x1="81.60" y1="872.17" x2="86.10" y2="872.17" stroke="#111" stroke-width="1.7"/>
<text x="80.10" y="876.50" font-size="12" font-weight="bold" stroke="#111" stroke-width="0.22" text-anchor="end" fill="#111">5</text>
<line x1="81.60" y1="830.25" x2="86.10" y2="830.25" stroke="#111" stroke-width="1.7"/>
<text x="80.10" y="834.57" font-size="12" font-weight="bold" stroke="#111" stroke-width="0.22" text-anchor="end" fill="#111">10</text>
<line x1="81.60" y1="788.32" x2="86.10" y2="788.32" stroke="#111" stroke-width="1.7"/>
<text x="80.10" y="792.64" font-size="12" font-weight="bold" stroke="#111" stroke-width="0.22" text-anchor="end" fill="#111">15</text>
<line x1="81.60" y1="746.40" x2="86.10" y2="746.40" stroke="#111" stroke-width="1.7"/>
<text x="80.10" y="750.72" font-size="12" font-weight="bold" stroke="#111" stroke-width="0.22" text-anchor="end" fill="#111">20</text>
<line x1="117.50" y1="876.20" x2="117.50" y2="881.40" stroke="#111" stroke-width="1.7"/>
<line x1="107.25" y1="876.20" x2="127.75" y2="876.20" stroke="#111" stroke-width="1.7"/>
<rect x="96.70" y="881.40" width="41.60" height="32.70" fill="#fff" stroke="#111" stroke-width="1.7" stroke-linejoin="round"/>
<line x1="117.50" y1="914.10" x2="117.50" y2="919.10" stroke="#111" stroke-width="1.7"/>
<line x1="180.10" y1="855.57" x2="180.10" y2="856.33" stroke="#111" stroke-width="1.7"/>
<line x1="169.85" y1="855.57" x2="190.35" y2="855.57" stroke="#111" stroke-width="1.7"/>
<rect x="159.30" y="856.33" width="41.60" height="57.77" fill="#fff" stroke="#111" stroke-width="1.7" stroke-linejoin="round"/>
<line x1="180.10" y1="914.10" x2="180.10" y2="919.10" stroke="#111" stroke-width="1.7"/>
<line x1="242.90" y1="844.50" x2="242.90" y2="854.31" stroke="#111" stroke-width="1.7"/>
<line x1="232.65" y1="844.50" x2="253.15" y2="844.50" stroke="#111" stroke-width="1.7"/>
<rect x="222.10" y="854.31" width="41.60" height="59.79" fill="#fff" stroke="#111" stroke-width="1.7" stroke-linejoin="round"/>
<line x1="242.90" y1="914.10" x2="242.90" y2="919.10" stroke="#111" stroke-width="1.7"/>
<line x1="305.80" y1="764.68" x2="305.80" y2="771.56" stroke="#111" stroke-width="1.7"/>
<line x1="295.55" y1="764.68" x2="316.05" y2="764.68" stroke="#111" stroke-width="1.7"/>
<rect x="285.00" y="771.56" width="41.60" height="142.54" fill="#fff" stroke="#111" stroke-width="1.7" stroke-linejoin="round"/>
<line x1="305.80" y1="914.10" x2="305.80" y2="919.10" stroke="#111" stroke-width="1.7"/>
<polygon points="177.00,841.10 177.75,842.91 179.71,843.07 178.22,844.35 178.68,846.26 177.00,845.23 175.32,846.26 175.78,844.35 174.29,843.07 176.25,842.91" fill="#1a1a1a"/>
<polygon points="183.20,841.10 183.95,842.91 185.91,843.07 184.42,844.35 184.88,846.26 183.20,845.23 181.52,846.26 181.98,844.35 180.49,843.07 182.45,842.91" fill="#1a1a1a"/>
<polygon points="242.90,831.00 243.65,832.81 245.61,832.97 244.12,834.25 244.58,836.16 242.90,835.13 241.22,836.16 241.68,834.25 240.19,832.97 242.15,832.81" fill="#1a1a1a"/>
<text x="305.35" y="746.73" font-size="9.8" font-weight="bold" stroke="#111" stroke-width="0.45" text-anchor="middle" fill="#111" letter-spacing="-0.9">###</text>
<polygon points="299.60,750.40 300.35,752.21 302.31,752.37 300.82,753.65 301.28,755.56 299.60,754.53 297.92,755.56 298.38,753.65 296.89,752.37 298.85,752.21" fill="#1a1a1a"/>
<polygon points="305.80,750.40 306.55,752.21 308.51,752.37 307.02,753.65 307.48,755.56 305.80,754.53 304.12,755.56 304.58,753.65 303.09,752.37 305.05,752.21" fill="#1a1a1a"/>
<polygon points="312.00,750.40 312.75,752.21 314.71,752.37 313.22,753.65 313.68,755.56 312.00,754.53 310.32,755.56 310.78,753.65 309.29,752.37 311.25,752.21" fill="#1a1a1a"/>
<text x="59.80" y="830.70" font-size="12" font-weight="bold" stroke="#111" stroke-width="0.22" text-anchor="middle" fill="#111" transform="rotate(-90 59.80 830.70)">Apoptotic HASMC cell (%)</text>
<text x="111.10" y="928.60" font-size="11.8" font-weight="bold" stroke="#111" stroke-width="0.22" text-anchor="end" fill="#111">miR-513b-5p mimic</text>
<text x="117.50" y="930.50" font-size="11.5" font-weight="bold" stroke="#111" stroke-width="0.22" text-anchor="middle" fill="#111">-</text>
<text x="180.10" y="931.60" font-size="11.5" font-weight="bold" stroke="#111" stroke-width="0.22" text-anchor="middle" fill="#111">+</text>
<text x="242.90" y="930.50" font-size="11.5" font-weight="bold" stroke="#111" stroke-width="0.22" text-anchor="middle" fill="#111">-</text>
<text x="305.80" y="931.60" font-size="11.5" font-weight="bold" stroke="#111" stroke-width="0.22" text-anchor="middle" fill="#111">+</text>
<text x="107.30" y="944.10" font-size="11.8" font-weight="bold" stroke="#111" stroke-width="0.22" text-anchor="end" fill="#111">Si COL1A2</text>
<text x="117.50" y="943.90" font-size="11.5" font-weight="bold" stroke="#111" stroke-width="0.22" text-anchor="middle" fill="#111">-</text>
<text x="180.10" y="943.90" font-size="11.5" font-weight="bold" stroke="#111" stroke-width="0.22" text-anchor="middle" fill="#111">-</text>
<text x="242.90" y="945.00" font-size="11.5" font-weight="bold" stroke="#111" stroke-width="0.22" text-anchor="middle" fill="#111">+</text>
<text x="305.80" y="945.00" font-size="11.5" font-weight="bold" stroke="#111" stroke-width="0.22" text-anchor="middle" fill="#111">+</text>
<text x="354.80" y="750.80" font-size="20" font-weight="bold" stroke="#111" stroke-width="0.22" text-anchor="start" fill="#111">(G)</text>
<line x1="430.90" y1="745.55" x2="430.90" y2="914.65" stroke="#111" stroke-width="1.7"/>
<line x1="430.05" y1="913.80" x2="683.20" y2="913.80" stroke="#111" stroke-width="1.7"/>
<line x1="426.40" y1="913.80" x2="430.90" y2="913.80" stroke="#111" stroke-width="1.7"/>
<text x="424.90" y="918.12" font-size="12" font-weight="bold" stroke="#111" stroke-width="0.22" text-anchor="end" fill="#111">0</text>
<line x1="426.40" y1="880.32" x2="430.90" y2="880.32" stroke="#111" stroke-width="1.7"/>
<text x="424.90" y="884.64" font-size="12" font-weight="bold" stroke="#111" stroke-width="0.22" text-anchor="end" fill="#111">5</text>
<line x1="426.40" y1="846.84" x2="430.90" y2="846.84" stroke="#111" stroke-width="1.7"/>
<text x="424.90" y="851.16" font-size="12" font-weight="bold" stroke="#111" stroke-width="0.22" text-anchor="end" fill="#111">10</text>
<line x1="426.40" y1="813.36" x2="430.90" y2="813.36" stroke="#111" stroke-width="1.7"/>
<text x="424.90" y="817.68" font-size="12" font-weight="bold" stroke="#111" stroke-width="0.22" text-anchor="end" fill="#111">15</text>
<line x1="426.40" y1="779.88" x2="430.90" y2="779.88" stroke="#111" stroke-width="1.7"/>
<text x="424.90" y="784.20" font-size="12" font-weight="bold" stroke="#111" stroke-width="0.22" text-anchor="end" fill="#111">20</text>
<line x1="426.40" y1="746.40" x2="430.90" y2="746.40" stroke="#111" stroke-width="1.7"/>
<text x="424.90" y="750.72" font-size="12" font-weight="bold" stroke="#111" stroke-width="0.22" text-anchor="end" fill="#111">25</text>
<line x1="462.50" y1="882.73" x2="462.50" y2="886.48" stroke="#111" stroke-width="1.7"/>
<line x1="452.25" y1="882.73" x2="472.75" y2="882.73" stroke="#111" stroke-width="1.7"/>
<rect x="441.70" y="886.48" width="41.60" height="27.32" fill="#fff" stroke="#111" stroke-width="1.7" stroke-linejoin="round"/>
<line x1="462.50" y1="913.80" x2="462.50" y2="918.80" stroke="#111" stroke-width="1.7"/>
<line x1="525.20" y1="786.04" x2="525.20" y2="792.80" stroke="#111" stroke-width="1.7"/>
<line x1="514.95" y1="786.04" x2="535.45" y2="786.04" stroke="#111" stroke-width="1.7"/>
<rect x="504.40" y="792.80" width="41.60" height="121.00" fill="#fff" stroke="#111" stroke-width="1.7" stroke-linejoin="round"/>
<line x1="525.20" y1="913.80" x2="525.20" y2="918.80" stroke="#111" stroke-width="1.7"/>
<line x1="588.10" y1="892.51" x2="588.10" y2="894.52" stroke="#111" stroke-width="1.7"/>
<line x1="577.85" y1="892.51" x2="598.35" y2="892.51" stroke="#111" stroke-width="1.7"/>
<rect x="567.30" y="894.52" width="41.60" height="19.28" fill="#fff" stroke="#111" stroke-width="1.7" stroke-linejoin="round"/>
<line x1="588.10" y1="913.80" x2="588.10" y2="918.80" stroke="#111" stroke-width="1.7"/>
<line x1="650.70" y1="849.52" x2="650.70" y2="855.08" stroke="#111" stroke-width="1.7"/>
<line x1="640.45" y1="849.52" x2="660.95" y2="849.52" stroke="#111" stroke-width="1.7"/>
<rect x="629.90" y="855.08" width="41.60" height="58.72" fill="#fff" stroke="#111" stroke-width="1.7" stroke-linejoin="round"/>
<line x1="650.70" y1="913.80" x2="650.70" y2="918.80" stroke="#111" stroke-width="1.7"/>
<polygon points="519.00,771.30 519.75,773.11 521.71,773.27 520.22,774.55 520.68,776.46 519.00,775.43 517.32,776.46 517.78,774.55 516.29,773.27 518.25,773.11" fill="#1a1a1a"/>
<polygon points="525.20,771.30 525.95,773.11 527.91,773.27 526.42,774.55 526.88,776.46 525.20,775.43 523.52,776.46 523.98,774.55 522.49,773.27 524.45,773.11" fill="#1a1a1a"/>
<polygon points="531.40,771.30 532.15,773.11 534.11,773.27 532.62,774.55 533.08,776.46 531.40,775.43 529.72,776.46 530.18,774.55 528.69,773.27 530.65,773.11" fill="#1a1a1a"/>
<polygon points="588.10,879.20 588.85,881.01 590.81,881.17 589.32,882.45 589.78,884.36 588.10,883.33 586.42,884.36 586.88,882.45 585.39,881.17 587.35,881.01" fill="#1a1a1a"/>
<text x="650.25" y="831.93" font-size="9.8" font-weight="bold" stroke="#111" stroke-width="0.45" text-anchor="middle" fill="#111" letter-spacing="-0.9">###</text>
<polygon points="644.50,835.80 645.25,837.61 647.21,837.77 645.72,839.05 646.18,840.96 644.50,839.93 642.82,840.96 643.28,839.05 641.79,837.77 643.75,837.61" fill="#1a1a1a"/>
<polygon points="650.70,835.80 651.45,837.61 653.41,837.77 651.92,839.05 652.38,840.96 650.70,839.93 649.02,840.96 649.48,839.05 647.99,837.77 649.95,837.61" fill="#1a1a1a"/>
<polygon points="656.90,835.80 657.65,837.61 659.61,837.77 658.12,839.05 658.58,840.96 656.90,839.93 655.22,840.96 655.68,839.05 654.19,837.77 656.15,837.61" fill="#1a1a1a"/>
<text x="404.50" y="830.70" font-size="12" font-weight="bold" stroke="#111" stroke-width="0.22" text-anchor="middle" fill="#111" transform="rotate(-90 404.50 830.70)">Apoptotic HASMC cell (%)</text>
<text x="455.80" y="928.60" font-size="11.8" font-weight="bold" stroke="#111" stroke-width="0.22" text-anchor="end" fill="#111">miR-513b-5p mimic</text>
<text x="462.50" y="930.30" font-size="11.5" font-weight="bold" stroke="#111" stroke-width="0.22" text-anchor="middle" fill="#111">-</text>
<text x="525.20" y="931.40" font-size="11.5" font-weight="bold" stroke="#111" stroke-width="0.22" text-anchor="middle" fill="#111">+</text>
<text x="588.10" y="930.30" font-size="11.5" font-weight="bold" stroke="#111" stroke-width="0.22" text-anchor="middle" fill="#111">-</text>
<text x="650.70" y="931.40" font-size="11.5" font-weight="bold" stroke="#111" stroke-width="0.22" text-anchor="middle" fill="#111">+</text>
<text x="452.80" y="944.10" font-size="11.8" font-weight="bold" stroke="#111" stroke-width="0.22" text-anchor="end" fill="#111">OE-COL1A2</text>
<text x="462.50" y="943.70" font-size="11.5" font-weight="bold" stroke="#111" stroke-width="0.22" text-anchor="middle" fill="#111">-</text>
<text x="525.20" y="943.70" font-size="11.5" font-weight="bold" stroke="#111" stroke-width="0.22" text-anchor="middle" fill="#111">-</text>
<text x="588.10" y="944.80" font-size="11.5" font-weight="bold" stroke="#111" stroke-width="0.22" text-anchor="middle" fill="#111">+</text>
<text x="650.70" y="944.80" font-size="11.5" font-weight="bold" stroke="#111" stroke-width="0.22" text-anchor="middle" fill="#111">+</text>
<text x="14.50" y="981.70" font-size="20" font-weight="bold" stroke="#111" stroke-width="0.22" text-anchor="start" fill="#111">(H)</text>
<clipPath id="c373"><rect x="91" y="988" width="185.5" height="36"/></clipPath>
<rect x="91.00" y="988.00" width="185.50" height="36.00" fill="#e9e9e9" stroke="none" stroke-width="0" stroke-linejoin="round"/>
<g clip-path="url(#c373)">
<rect x="91" y="1009" width="186" height="20" fill="#fafafa" filter="url(#b3)"/>
<rect x="113.00" y="994.30" width="24.00" height="4.00" rx="6.00" ry="2.00" fill="#000" opacity="0.28" filter="url(#b2)"/>
<rect x="153.00" y="993.15" width="29.00" height="6.30" rx="9.45" ry="3.15" fill="#000" opacity="0.85" filter="url(#b1)"/>
<rect x="193.00" y="993.40" width="25.00" height="5.80" rx="8.70" ry="2.90" fill="#000" opacity="0.7" filter="url(#b1)"/>
<rect x="232.00" y="991.40" width="31.50" height="9.80" rx="14.70" ry="4.90" fill="#000" opacity="0.97" filter="url(#b1)"/>
</g>
<rect x="91.00" y="988.00" width="185.50" height="36.00" fill="none" stroke="#2a2a2a" stroke-width="1.1" stroke-linejoin="round"/>
<text x="81.50" y="1004.80" font-size="14.3" text-anchor="end" fill="#111">TNF-α</text>
<clipPath id="c384"><rect x="91" y="1029" width="185.5" height="36"/></clipPath>
<rect x="91.00" y="1029.00" width="185.50" height="36.00" fill="#e9e9e9" stroke="none" stroke-width="0" stroke-linejoin="round"/>
<g clip-path="url(#c384)">
<rect x="108.00" y="1044.30" width="3.50" height="3.20" rx="1.75" ry="1.60" fill="#000" opacity="0.95" filter="url(#b1)"/>
<rect x="119.00" y="1042.65" width="17.50" height="5.30" rx="7.95" ry="2.65" fill="#000" opacity="0.92" filter="url(#b1)" transform="rotate(-4 127.75 1045.3)"/>
<rect x="146.50" y="1041.90" width="33.50" height="6.80" rx="10.20" ry="3.40" fill="#000" opacity="0.95" filter="url(#b1)" transform="rotate(-2 163.25 1045.3)"/>
<rect x="189.00" y="1042.40" width="31.00" height="5.80" rx="8.70" ry="2.90" fill="#000" opacity="0.93" filter="url(#b1)"/>
<rect x="229.00" y="1041.65" width="35.50" height="7.30" rx="10.95" ry="3.65" fill="#000" opacity="0.97" filter="url(#b1)" transform="rotate(-1 246.75 1045.3)"/>
<rect x="150.00" y="1055.05" width="26.00" height="2.50" rx="3.75" ry="1.25" fill="#000" opacity="0.18" filter="url(#b1)"/>
<rect x="232.00" y="1055.05" width="30.00" height="2.50" rx="3.75" ry="1.25" fill="#000" opacity="0.22" filter="url(#b1)"/>
<rect x="120.00" y="1055.30" width="14.00" height="2.00" rx="3.00" ry="1.00" fill="#000" opacity="0.1" filter="url(#b1)"/>
</g>
<rect x="91.00" y="1029.00" width="185.50" height="36.00" fill="none" stroke="#2a2a2a" stroke-width="1.1" stroke-linejoin="round"/>
<text x="80.60" y="1050.00" font-size="14.3" text-anchor="end" fill="#111">RIP1</text>
<clipPath id="c398"><rect x="91" y="1069.3" width="185.5" height="36.7"/></clipPath>
<rect x="91.00" y="1069.30" width="185.50" height="36.70" fill="#e9e9e9" stroke="none" stroke-width="0" stroke-linejoin="round"/>
<g clip-path="url(#c398)">
<rect x="107.00" y="1085.45" width="30.00" height="6.30" rx="9.45" ry="3.15" fill="#000" opacity="0.55" filter="url(#b2)" transform="rotate(-3 122.0 1088.6)"/>
<rect x="147.00" y="1084.20" width="33.00" height="8.80" rx="13.20" ry="4.40" fill="#000" opacity="0.95" filter="url(#b15)"/>
<rect x="189.00" y="1084.20" width="33.00" height="8.80" rx="13.20" ry="4.40" fill="#000" opacity="0.92" filter="url(#b15)"/>
<rect x="229.00" y="1083.70" width="37.00" height="9.80" rx="14.70" ry="4.90" fill="#000" opacity="0.96" filter="url(#b15)"/>
</g>
<rect x="91.00" y="1069.30" width="185.50" height="36.70" fill="none" stroke="#2a2a2a" stroke-width="1.1" stroke-linejoin="round"/>
<text x="80.60" y="1091.50" font-size="14.3" text-anchor="end" fill="#111">P-RIP1</text>
<clipPath id="c408"><rect x="91" y="1110.8" width="185.5" height="35.6"/></clipPath>
<rect x="91.00" y="1110.80" width="185.50" height="35.60" fill="#e9e9e9" stroke="none" stroke-width="0" stroke-linejoin="round"/>
<g clip-path="url(#c408)">
<rect x="106.00" y="1126.75" width="31.50" height="5.30" rx="7.95" ry="2.65" fill="#000" opacity="0.9" filter="url(#b1)"/>
<rect x="146.50" y="1126.25" width="33.50" height="6.30" rx="9.45" ry="3.15" fill="#000" opacity="0.93" filter="url(#b1)"/>
<rect x="187.50" y="1125.60" width="33.50" height="7.60" rx="11.40" ry="3.80" fill="#000" opacity="0.96" filter="url(#b1)"/>
<rect x="228.50" y="1124.75" width="39.00" height="9.30" rx="13.95" ry="4.65" fill="#000" opacity="0.97" filter="url(#b1)"/>
</g>
<rect x="91.00" y="1110.80" width="185.50" height="35.60" fill="none" stroke="#2a2a2a" stroke-width="1.1" stroke-linejoin="round"/>
<text x="80.60" y="1132.50" font-size="14.3" text-anchor="end" fill="#111">p-RIP3</text>
<clipPath id="c418"><rect x="91" y="1151.4" width="185.5" height="36.4"/></clipPath>
<rect x="91.00" y="1151.40" width="185.50" height="36.40" fill="#e9e9e9" stroke="none" stroke-width="0" stroke-linejoin="round"/>
<g clip-path="url(#c418)">
<rect x="104.00" y="1167.10" width="17.00" height="5.80" rx="8.50" ry="2.90" fill="#000" opacity="0.93" filter="url(#b1)"/>
<rect x="118.00" y="1169.40" width="17.50" height="3.00" rx="4.50" ry="1.50" fill="#000" opacity="0.85" filter="url(#b1)"/>
<rect x="144.50" y="1167.40" width="35.50" height="6.80" rx="10.20" ry="3.40" fill="#000" opacity="0.96" filter="url(#b1)"/>
<rect x="184.50" y="1166.70" width="37.50" height="6.80" rx="10.20" ry="3.40" fill="#000" opacity="0.96" filter="url(#b1)" transform="rotate(-2 203.25 1170.1)"/>
<rect x="229.00" y="1165.15" width="39.50" height="8.30" rx="12.45" ry="4.15" fill="#000" opacity="0.97" filter="url(#b1)" transform="rotate(-1.5 248.75 1169.3)"/>
</g>
<rect x="91.00" y="1151.40" width="185.50" height="36.40" fill="none" stroke="#2a2a2a" stroke-width="1.1" stroke-linejoin="round"/>
<text x="81.80" y="1177.00" font-size="14.3" text-anchor="end" fill="#111">p-MLKL</text>
<clipPath id="c429"><rect x="91" y="1192" width="185.5" height="37"/></clipPath>
<rect x="91.00" y="1192.00" width="185.50" height="37.00" fill="#e9e9e9" stroke="none" stroke-width="0" stroke-linejoin="round"/>
<g clip-path="url(#c429)">
<rect x="106.00" y="1206.05" width="29.50" height="7.30" rx="10.95" ry="3.65" fill="#000" opacity="0.9" filter="url(#b15)"/>
<rect x="146.50" y="1206.85" width="33.50" height="8.30" rx="12.45" ry="4.15" fill="#000" opacity="0.93" filter="url(#b15)"/>
<rect x="189.00" y="1206.35" width="33.00" height="8.30" rx="12.45" ry="4.15" fill="#000" opacity="0.94" filter="url(#b15)"/>
<rect x="229.00" y="1205.55" width="37.50" height="8.30" rx="12.45" ry="4.15" fill="#000" opacity="0.95" filter="url(#b15)"/>
<rect x="232.00" y="1213.25" width="32.00" height="3.50" rx="5.25" ry="1.75" fill="#000" opacity="0.6" filter="url(#b1)"/>
<rect x="60.00" y="1206.90" width="240.00" height="2.20" rx="3.30" ry="1.10" fill="#000" opacity="0.22" filter="url(#b1)"/>
</g>
<rect x="91.00" y="1192.00" width="185.50" height="37.00" fill="none" stroke="#2a2a2a" stroke-width="1.1" stroke-linejoin="round"/>
<text x="80.60" y="1220.00" font-size="14.3" text-anchor="end" fill="#111">p-caspase-8</text>
<clipPath id="c441"><rect x="91" y="1233" width="185.5" height="36"/></clipPath>
<rect x="91.00" y="1233.00" width="185.50" height="36.00" fill="#e9e9e9" stroke="none" stroke-width="0" stroke-linejoin="round"/>
<g clip-path="url(#c441)">
<rect x="106.00" y="1250.60" width="29.50" height="5.80" rx="8.70" ry="2.90" fill="#000" opacity="0.94" filter="url(#b1)"/>
<rect x="146.50" y="1250.60" width="33.50" height="6.80" rx="10.20" ry="3.40" fill="#000" opacity="0.96" filter="url(#b1)"/>
<rect x="187.00" y="1250.40" width="37.00" height="6.80" rx="10.20" ry="3.40" fill="#000" opacity="0.96" filter="url(#b1)"/>
<rect x="229.00" y="1249.30" width="37.50" height="7.80" rx="11.70" ry="3.90" fill="#000" opacity="0.97" filter="url(#b1)"/>
</g>
<rect x="91.00" y="1233.00" width="185.50" height="36.00" fill="none" stroke="#2a2a2a" stroke-width="1.1" stroke-linejoin="round"/>
<text x="79.00" y="1262.00" font-size="14.3" text-anchor="end" fill="#111">caspase-8</text>
<clipPath id="c451"><rect x="91" y="1274.2" width="185.5" height="35.5"/></clipPath>
<rect x="91.00" y="1274.20" width="185.50" height="35.50" fill="#e9e9e9" stroke="none" stroke-width="0" stroke-linejoin="round"/>
<g clip-path="url(#c451)">
<rect x="104.00" y="1290.85" width="33.50" height="7.30" rx="10.95" ry="3.65" fill="#000" opacity="0.97" filter="url(#b1)"/>
<rect x="146.00" y="1290.85" width="32.00" height="7.30" rx="10.95" ry="3.65" fill="#000" opacity="0.97" filter="url(#b1)"/>
<rect x="186.50" y="1290.85" width="33.50" height="7.30" rx="10.95" ry="3.65" fill="#000" opacity="0.97" filter="url(#b1)"/>
<rect x="228.50" y="1290.85" width="30.00" height="7.30" rx="10.95" ry="3.65" fill="#000" opacity="0.97" filter="url(#b1)"/>
</g>
<rect x="91.00" y="1274.20" width="185.50" height="35.50" fill="none" stroke="#2a2a2a" stroke-width="1.1" stroke-linejoin="round"/>
<text x="83.00" y="1303.80" font-size="14.3" text-anchor="end" fill="#111">GAPDH</text>
<text x="127.00" y="1324.50" font-size="14" text-anchor="end" fill="#111" transform="rotate(-45 127.00 1324.50)">Mimic NC+Si NC</text>
<text x="165.00" y="1324.00" font-size="14" text-anchor="end" fill="#111" transform="rotate(-45 165.00 1324.00)">Mimic+Si NC</text>
<text x="207.50" y="1323.50" font-size="14" text-anchor="end" fill="#111" transform="rotate(-45 207.50 1323.50)">Mimic NC+Si COL1A2</text>
<text x="250.50" y="1321.50" font-size="14" text-anchor="end" fill="#111" transform="rotate(-45 250.50 1321.50)">Mimic+Si COL1A2</text>
<rect x="384.00" y="961.80" width="16.10" height="5.20" fill="#fff" stroke="#111" stroke-width="1.7" stroke-linejoin="round"/>
<text x="407.80" y="968.30" font-size="11.85" font-weight="bold" stroke="#111" stroke-width="0.22" text-anchor="start" fill="#111">Mimic NC+Si NC</text>
<rect x="532.80" y="960.90" width="16.10" height="5.20" fill="#000" stroke="#111" stroke-width="1.7" stroke-linejoin="round"/>
<rect x="533.80" y="961.80" width="3.50" height="3.30" fill="#fff"/>
<rect x="539.65" y="961.80" width="4.00" height="3.30" fill="#fff"/>
<rect x="546.20" y="961.80" width="1.80" height="3.30" fill="#fff"/>
<text x="556.30" y="968.90" font-size="11.85" font-weight="bold" stroke="#111" stroke-width="0.22" text-anchor="start" fill="#111">Mimic+Si NC</text>
<rect x="384.00" y="977.20" width="16.10" height="5.20" fill="url(#pdiag)" stroke="#111" stroke-width="1.7" stroke-linejoin="round"/>
<text x="407.80" y="983.60" font-size="11.85" font-weight="bold" stroke="#111" stroke-width="0.22" text-anchor="start" fill="#111">Mimic NC+Si COL1A2</text>
<rect x="532.80" y="976.60" width="16.10" height="5.20" fill="url(#pbrick)" stroke="#111" stroke-width="1.7" stroke-linejoin="round"/>
<text x="555.00" y="983.90" font-size="11.85" font-weight="bold" stroke="#111" stroke-width="0.22" text-anchor="start" fill="#111">Mimic+Si COL1A2</text>
<line x1="389.00" y1="993.85" x2="389.00" y2="1165.05" stroke="#111" stroke-width="1.7"/>
<line x1="388.15" y1="1164.20" x2="644.30" y2="1164.20" stroke="#111" stroke-width="1.7"/>
<line x1="384.50" y1="1164.20" x2="389.00" y2="1164.20" stroke="#111" stroke-width="1.7"/>
<text x="383.00" y="1168.52" font-size="12" font-weight="bold" stroke="#111" stroke-width="0.22" text-anchor="end" fill="#111">0</text>
<line x1="384.50" y1="1130.30" x2="389.00" y2="1130.30" stroke="#111" stroke-width="1.7"/>
<text x="383.00" y="1134.62" font-size="12" font-weight="bold" stroke="#111" stroke-width="0.22" text-anchor="end" fill="#111">1</text>
<line x1="384.50" y1="1096.40" x2="389.00" y2="1096.40" stroke="#111" stroke-width="1.7"/>
<text x="383.00" y="1100.72" font-size="12" font-weight="bold" stroke="#111" stroke-width="0.22" text-anchor="end" fill="#111">2</text>
<line x1="384.50" y1="1062.50" x2="389.00" y2="1062.50" stroke="#111" stroke-width="1.7"/>
<text x="383.00" y="1066.82" font-size="12" font-weight="bold" stroke="#111" stroke-width="0.22" text-anchor="end" fill="#111">3</text>
<line x1="384.50" y1="1028.60" x2="389.00" y2="1028.60" stroke="#111" stroke-width="1.7"/>
<text x="383.00" y="1032.92" font-size="12" font-weight="bold" stroke="#111" stroke-width="0.22" text-anchor="end" fill="#111">4</text>
<line x1="384.50" y1="994.70" x2="389.00" y2="994.70" stroke="#111" stroke-width="1.7"/>
<text x="383.00" y="999.02" font-size="12" font-weight="bold" stroke="#111" stroke-width="0.22" text-anchor="end" fill="#111">5</text>
<line x1="403.40" y1="1122.84" x2="403.40" y2="1130.30" stroke="#111" stroke-width="1.7"/>
<line x1="400.45" y1="1122.84" x2="406.35" y2="1122.84" stroke="#111" stroke-width="1.7"/>
<rect x="397.50" y="1130.30" width="11.80" height="33.90" fill="#fff" stroke="#111" stroke-width="1.7" stroke-linejoin="round"/>
<line x1="421.60" y1="1067.92" x2="421.60" y2="1074.81" stroke="#111" stroke-width="1.7"/>
<line x1="418.65" y1="1067.92" x2="424.55" y2="1067.92" stroke="#111" stroke-width="1.7"/>
<rect x="415.70" y="1074.81" width="11.80" height="89.39" fill="#000" stroke="#111" stroke-width="1.7" stroke-linejoin="round"/>
<clipPath id="g496"><rect x="416.65" y="1075.76" width="9.90" height="87.69"/></clipPath>
<g clip-path="url(#g496)" fill="#fff">
<rect x="416.90" y="1158.20" width="3.5" height="3.7"/>
<rect x="422.80" y="1158.20" width="3.5" height="3.7"/>
<rect x="416.90" y="1151.60" width="3.5" height="3.7"/>
<rect x="422.80" y="1151.60" width="3.5" height="3.7"/>
<rect x="416.90" y="1145.00" width="3.5" height="3.7"/>
<rect x="422.80" y="1145.00" width="3.5" height="3.7"/>
<rect x="416.90" y="1138.40" width="3.5" height="3.7"/>
<rect x="422.80" y="1138.40" width="3.5" height="3.7"/>
<rect x="416.90" y="1131.80" width="3.5" height="3.7"/>
<rect x="422.80" y="1131.80" width="3.5" height="3.7"/>
<rect x="416.90" y="1125.20" width="3.5" height="3.7"/>
<rect x="422.80" y="1125.20" width="3.5" height="3.7"/>
<rect x="416.90" y="1118.60" width="3.5" height="3.7"/>
<rect x="422.80" y="1118.60" width="3.5" height="3.7"/>
<rect x="416.90" y="1112.00" width="3.5" height="3.7"/>
<rect x="422.80" y="1112.00" width="3.5" height="3.7"/>
<rect x="416.90" y="1105.40" width="3.5" height="3.7"/>
<rect x="422.80" y="1105.40" width="3.5" height="3.7"/>
<rect x="416.90" y="1098.80" width="3.5" height="3.7"/>
<rect x="422.80" y="1098.80" width="3.5" height="3.7"/>
<rect x="416.90" y="1092.20" width="3.5" height="3.7"/>
<rect x="422.80" y="1092.20" width="3.5" height="3.7"/>
<rect x="416.90" y="1085.60" width="3.5" height="3.7"/>
<rect x="422.80" y="1085.60" width="3.5" height="3.7"/>
<rect x="416.90" y="1079.00" width="3.5" height="3.7"/>
<rect x="422.80" y="1079.00" width="3.5" height="3.7"/>
<rect x="416.90" y="1072.40" width="3.5" height="3.7"/>
<rect x="422.80" y="1072.40" width="3.5" height="3.7"/>
</g>
<polygon points="415.45,1062.10 416.18,1063.85 418.07,1064.00 416.63,1065.23 417.07,1067.07 415.45,1066.09 413.83,1067.07 414.27,1065.23 412.83,1064.00 414.72,1063.85" fill="#1a1a1a"/>
<polygon points="421.60,1062.10 422.33,1063.85 424.22,1064.00 422.78,1065.23 423.22,1067.07 421.60,1066.09 419.98,1067.07 420.42,1065.23 418.98,1064.00 420.87,1063.85" fill="#1a1a1a"/>
<polygon points="427.75,1062.10 428.48,1063.85 430.37,1064.00 428.93,1065.23 429.37,1067.07 427.75,1066.09 426.13,1067.07 426.57,1065.23 425.13,1064.00 427.02,1063.85" fill="#1a1a1a"/>
<line x1="439.80" y1="1073.69" x2="439.80" y2="1079.79" stroke="#111" stroke-width="1.7"/>
<line x1="436.85" y1="1073.69" x2="442.75" y2="1073.69" stroke="#111" stroke-width="1.7"/>
<rect x="433.90" y="1079.79" width="11.80" height="84.41" fill="url(#pdiag)" stroke="#111" stroke-width="1.7" stroke-linejoin="round"/>
<polygon points="433.65,1067.90 434.38,1069.65 436.27,1069.80 434.83,1071.03 435.27,1072.87 433.65,1071.89 432.03,1072.87 432.47,1071.03 431.03,1069.80 432.92,1069.65" fill="#1a1a1a"/>
<polygon points="439.80,1067.90 440.53,1069.65 442.42,1069.80 440.98,1071.03 441.42,1072.87 439.80,1071.89 438.18,1072.87 438.62,1071.03 437.18,1069.80 439.07,1069.65" fill="#1a1a1a"/>
<polygon points="445.95,1067.90 446.68,1069.65 448.57,1069.80 447.13,1071.03 447.57,1072.87 445.95,1071.89 444.33,1072.87 444.77,1071.03 443.33,1069.80 445.22,1069.65" fill="#1a1a1a"/>
<line x1="458.00" y1="1016.40" x2="458.00" y2="1023.52" stroke="#111" stroke-width="1.7"/>
<line x1="455.05" y1="1016.40" x2="460.95" y2="1016.40" stroke="#111" stroke-width="1.7"/>
<rect x="452.10" y="1023.52" width="11.80" height="140.68" fill="url(#pbrick)" stroke="#111" stroke-width="1.7" stroke-linejoin="round"/>
<polygon points="451.85,1010.20 452.58,1011.95 454.47,1012.10 453.03,1013.33 453.47,1015.17 451.85,1014.19 450.23,1015.17 450.67,1013.33 449.23,1012.10 451.12,1011.95" fill="#1a1a1a"/>
<polygon points="458.00,1010.20 458.73,1011.95 460.62,1012.10 459.18,1013.33 459.62,1015.17 458.00,1014.19 456.38,1015.17 456.82,1013.33 455.38,1012.10 457.27,1011.95" fill="#1a1a1a"/>
<polygon points="464.15,1010.20 464.88,1011.95 466.77,1012.10 465.33,1013.33 465.77,1015.17 464.15,1014.19 462.53,1015.17 462.97,1013.33 461.53,1012.10 463.42,1011.95" fill="#1a1a1a"/>
<line x1="430.70" y1="1164.20" x2="430.70" y2="1169.20" stroke="#111" stroke-width="1.7"/>
<text x="433.50" y="1180.00" font-size="12" font-weight="bold" stroke="#111" stroke-width="0.22" text-anchor="end" fill="#111" transform="rotate(-45 433.50 1180.00)">TNF-α</text>
<line x1="488.90" y1="1125.89" x2="488.90" y2="1130.30" stroke="#111" stroke-width="1.7"/>
<line x1="485.95" y1="1125.89" x2="491.85" y2="1125.89" stroke="#111" stroke-width="1.7"/>
<rect x="483.00" y="1130.30" width="11.80" height="33.90" fill="#fff" stroke="#111" stroke-width="1.7" stroke-linejoin="round"/>
<line x1="507.10" y1="1096.06" x2="507.10" y2="1100.64" stroke="#111" stroke-width="1.7"/>
<line x1="504.15" y1="1096.06" x2="510.05" y2="1096.06" stroke="#111" stroke-width="1.7"/>
<rect x="501.20" y="1100.64" width="11.80" height="63.56" fill="#000" stroke="#111" stroke-width="1.7" stroke-linejoin="round"/>
<clipPath id="g550"><rect x="502.15" y="1101.59" width="9.90" height="61.86"/></clipPath>
<g clip-path="url(#g550)" fill="#fff">
<rect x="502.40" y="1158.20" width="3.5" height="3.7"/>
<rect x="508.30" y="1158.20" width="3.5" height="3.7"/>
<rect x="502.40" y="1151.60" width="3.5" height="3.7"/>
<rect x="508.30" y="1151.60" width="3.5" height="3.7"/>
<rect x="502.40" y="1145.00" width="3.5" height="3.7"/>
<rect x="508.30" y="1145.00" width="3.5" height="3.7"/>
<rect x="502.40" y="1138.40" width="3.5" height="3.7"/>
<rect x="508.30" y="1138.40" width="3.5" height="3.7"/>
<rect x="502.40" y="1131.80" width="3.5" height="3.7"/>
<rect x="508.30" y="1131.80" width="3.5" height="3.7"/>
<rect x="502.40" y="1125.20" width="3.5" height="3.7"/>
<rect x="508.30" y="1125.20" width="3.5" height="3.7"/>
<rect x="502.40" y="1118.60" width="3.5" height="3.7"/>
<rect x="508.30" y="1118.60" width="3.5" height="3.7"/>
<rect x="502.40" y="1112.00" width="3.5" height="3.7"/>
<rect x="508.30" y="1112.00" width="3.5" height="3.7"/>
<rect x="502.40" y="1105.40" width="3.5" height="3.7"/>
<rect x="508.30" y="1105.40" width="3.5" height="3.7"/>
<rect x="502.40" y="1098.80" width="3.5" height="3.7"/>
<rect x="508.30" y="1098.80" width="3.5" height="3.7"/>
</g>
<polygon points="504.02,1085.00 504.75,1086.75 506.64,1086.90 505.20,1088.13 505.64,1089.97 504.02,1088.99 502.41,1089.97 502.85,1088.13 501.41,1086.90 503.30,1086.75" fill="#1a1a1a"/>
<polygon points="510.17,1085.00 510.90,1086.75 512.79,1086.90 511.35,1088.13 511.79,1089.97 510.17,1088.99 508.56,1089.97 509.00,1088.13 507.56,1086.90 509.45,1086.75" fill="#1a1a1a"/>
<line x1="525.30" y1="1110.64" x2="525.30" y2="1114.47" stroke="#111" stroke-width="1.7"/>
<line x1="522.35" y1="1110.64" x2="528.25" y2="1110.64" stroke="#111" stroke-width="1.7"/>
<rect x="519.40" y="1114.47" width="11.80" height="49.73" fill="url(#pdiag)" stroke="#111" stroke-width="1.7" stroke-linejoin="round"/>
<polygon points="522.22,1103.10 522.95,1104.85 524.84,1105.00 523.40,1106.23 523.84,1108.07 522.22,1107.09 520.61,1108.07 521.05,1106.23 519.61,1105.00 521.50,1104.85" fill="#1a1a1a"/>
<polygon points="528.38,1103.10 529.10,1104.85 530.99,1105.00 529.55,1106.23 529.99,1108.07 528.38,1107.09 526.76,1108.07 527.20,1106.23 525.76,1105.00 527.65,1104.85" fill="#1a1a1a"/>
<line x1="543.50" y1="1079.45" x2="543.50" y2="1083.18" stroke="#111" stroke-width="1.7"/>
<line x1="540.55" y1="1079.45" x2="546.45" y2="1079.45" stroke="#111" stroke-width="1.7"/>
<rect x="537.60" y="1083.18" width="11.80" height="81.02" fill="url(#pbrick)" stroke="#111" stroke-width="1.7" stroke-linejoin="round"/>
<polygon points="537.35,1072.20 538.08,1073.95 539.97,1074.10 538.53,1075.33 538.97,1077.17 537.35,1076.19 535.73,1077.17 536.17,1075.33 534.73,1074.10 536.62,1073.95" fill="#1a1a1a"/>
<polygon points="543.50,1072.20 544.23,1073.95 546.12,1074.10 544.68,1075.33 545.12,1077.17 543.50,1076.19 541.88,1077.17 542.32,1075.33 540.88,1074.10 542.77,1073.95" fill="#1a1a1a"/>
<polygon points="549.65,1072.20 550.38,1073.95 552.27,1074.10 550.83,1075.33 551.27,1077.17 549.65,1076.19 548.03,1077.17 548.47,1075.33 547.03,1074.10 548.92,1073.95" fill="#1a1a1a"/>
<line x1="516.20" y1="1164.20" x2="516.20" y2="1169.20" stroke="#111" stroke-width="1.7"/>
<text x="519.00" y="1180.00" font-size="12" font-weight="bold" stroke="#111" stroke-width="0.22" text-anchor="end" fill="#111" transform="rotate(-45 519.00 1180.00)">RIP1</text>
<line x1="573.80" y1="1125.05" x2="573.80" y2="1130.30" stroke="#111" stroke-width="1.7"/>
<line x1="570.85" y1="1125.05" x2="576.75" y2="1125.05" stroke="#111" stroke-width="1.7"/>
<rect x="567.90" y="1130.30" width="11.80" height="33.90" fill="#fff" stroke="#111" stroke-width="1.7" stroke-linejoin="round"/>
<line x1="592.00" y1="1098.77" x2="592.00" y2="1101.93" stroke="#111" stroke-width="1.7"/>
<line x1="589.05" y1="1098.77" x2="594.95" y2="1098.77" stroke="#111" stroke-width="1.7"/>
<rect x="586.10" y="1101.93" width="11.80" height="62.27" fill="#000" stroke="#111" stroke-width="1.7" stroke-linejoin="round"/>
<clipPath id="g594"><rect x="587.05" y="1102.88" width="9.90" height="60.57"/></clipPath>
<g clip-path="url(#g594)" fill="#fff">
<rect x="587.30" y="1158.20" width="3.5" height="3.7"/>
<rect x="593.20" y="1158.20" width="3.5" height="3.7"/>
<rect x="587.30" y="1151.60" width="3.5" height="3.7"/>
<rect x="593.20" y="1151.60" width="3.5" height="3.7"/>
<rect x="587.30" y="1145.00" width="3.5" height="3.7"/>
<rect x="593.20" y="1145.00" width="3.5" height="3.7"/>
<rect x="587.30" y="1138.40" width="3.5" height="3.7"/>
<rect x="593.20" y="1138.40" width="3.5" height="3.7"/>
<rect x="587.30" y="1131.80" width="3.5" height="3.7"/>
<rect x="593.20" y="1131.80" width="3.5" height="3.7"/>
<rect x="587.30" y="1125.20" width="3.5" height="3.7"/>
<rect x="593.20" y="1125.20" width="3.5" height="3.7"/>
<rect x="587.30" y="1118.60" width="3.5" height="3.7"/>
<rect x="593.20" y="1118.60" width="3.5" height="3.7"/>
<rect x="587.30" y="1112.00" width="3.5" height="3.7"/>
<rect x="593.20" y="1112.00" width="3.5" height="3.7"/>
<rect x="587.30" y="1105.40" width="3.5" height="3.7"/>
<rect x="593.20" y="1105.40" width="3.5" height="3.7"/>
<rect x="587.30" y="1098.80" width="3.5" height="3.7"/>
<rect x="593.20" y="1098.80" width="3.5" height="3.7"/>
</g>
<polygon points="588.92,1091.80 589.65,1093.55 591.54,1093.70 590.10,1094.93 590.54,1096.77 588.92,1095.79 587.31,1096.77 587.75,1094.93 586.31,1093.70 588.20,1093.55" fill="#1a1a1a"/>
<polygon points="595.08,1091.80 595.80,1093.55 597.69,1093.70 596.25,1094.93 596.69,1096.77 595.08,1095.79 593.46,1096.77 593.90,1094.93 592.46,1093.70 594.35,1093.55" fill="#1a1a1a"/>
<line x1="610.20" y1="1100.13" x2="610.20" y2="1103.69" stroke="#111" stroke-width="1.7"/>
<line x1="607.25" y1="1100.13" x2="613.15" y2="1100.13" stroke="#111" stroke-width="1.7"/>
<rect x="604.30" y="1103.69" width="11.80" height="60.51" fill="url(#pdiag)" stroke="#111" stroke-width="1.7" stroke-linejoin="round"/>
<polygon points="607.12,1093.00 607.85,1094.75 609.74,1094.90 608.30,1096.13 608.74,1097.97 607.12,1096.99 605.51,1097.97 605.95,1096.13 604.51,1094.90 606.40,1094.75" fill="#1a1a1a"/>
<polygon points="613.27,1093.00 614.00,1094.75 615.89,1094.90 614.45,1096.13 614.89,1097.97 613.27,1096.99 611.66,1097.97 612.10,1096.13 610.66,1094.90 612.55,1094.75" fill="#1a1a1a"/>
<line x1="628.40" y1="1091.99" x2="628.40" y2="1094.37" stroke="#111" stroke-width="1.7"/>
<line x1="625.45" y1="1091.99" x2="631.35" y2="1091.99" stroke="#111" stroke-width="1.7"/>
<rect x="622.50" y="1094.37" width="11.80" height="69.83" fill="url(#pbrick)" stroke="#111" stroke-width="1.7" stroke-linejoin="round"/>
<polygon points="622.25,1084.20 622.98,1085.95 624.87,1086.10 623.43,1087.33 623.87,1089.17 622.25,1088.19 620.63,1089.17 621.07,1087.33 619.63,1086.10 621.52,1085.95" fill="#1a1a1a"/>
<polygon points="628.40,1084.20 629.13,1085.95 631.02,1086.10 629.58,1087.33 630.02,1089.17 628.40,1088.19 626.78,1089.17 627.22,1087.33 625.78,1086.10 627.67,1085.95" fill="#1a1a1a"/>
<polygon points="634.55,1084.20 635.28,1085.95 637.17,1086.10 635.73,1087.33 636.17,1089.17 634.55,1088.19 632.93,1089.17 633.37,1087.33 631.93,1086.10 633.82,1085.95" fill="#1a1a1a"/>
<line x1="601.10" y1="1164.20" x2="601.10" y2="1169.20" stroke="#111" stroke-width="1.7"/>
<text x="603.50" y="1180.00" font-size="12" font-weight="bold" stroke="#111" stroke-width="0.22" text-anchor="end" fill="#111" transform="rotate(-45 603.50 1180.00)">P-RIP1</text>
<line x1="421.60" y1="1001.00" x2="458.70" y2="1001.00" stroke="#111" stroke-width="1.7"/>
<line x1="421.60" y1="993.80" x2="421.60" y2="1008.20" stroke="#111" stroke-width="1.7"/>
<line x1="458.70" y1="993.80" x2="458.70" y2="1008.20" stroke="#111" stroke-width="1.7"/>
<text x="439.70" y="999.63" font-size="9.8" font-weight="bold" stroke="#111" stroke-width="0.45" text-anchor="middle" fill="#111" letter-spacing="-0.9">###</text>
<line x1="506.90" y1="1063.00" x2="543.60" y2="1063.00" stroke="#111" stroke-width="1.7"/>
<line x1="506.90" y1="1055.80" x2="506.90" y2="1070.20" stroke="#111" stroke-width="1.7"/>
<line x1="543.60" y1="1055.80" x2="543.60" y2="1070.20" stroke="#111" stroke-width="1.7"/>
<text x="524.80" y="1061.63" font-size="9.8" font-weight="bold" stroke="#111" stroke-width="0.45" text-anchor="middle" fill="#111" letter-spacing="-0.9">##</text>
<line x1="591.60" y1="1074.80" x2="628.70" y2="1074.80" stroke="#111" stroke-width="1.7"/>
<line x1="591.60" y1="1067.60" x2="591.60" y2="1082.00" stroke="#111" stroke-width="1.7"/>
<line x1="628.70" y1="1067.60" x2="628.70" y2="1082.00" stroke="#111" stroke-width="1.7"/>
<text x="609.70" y="1073.43" font-size="9.8" font-weight="bold" stroke="#111" stroke-width="0.45" text-anchor="middle" fill="#111" letter-spacing="-0.9">#</text>
<text x="367.40" y="1080.00" font-size="12.3" font-weight="bold" stroke="#111" stroke-width="0.22" text-anchor="middle" fill="#111" transform="rotate(-90 367.40 1080.00)">Relative ratio of Protein/GAPDH</text>
<line x1="384.40" y1="1216.15" x2="384.40" y2="1387.35" stroke="#111" stroke-width="1.7"/>
<line x1="383.55" y1="1386.50" x2="638.50" y2="1386.50" stroke="#111" stroke-width="1.7"/>
<line x1="379.90" y1="1386.50" x2="384.40" y2="1386.50" stroke="#111" stroke-width="1.7"/>
<text x="378.40" y="1390.82" font-size="12" font-weight="bold" stroke="#111" stroke-width="0.22" text-anchor="end" fill="#111">0</text>
<line x1="379.90" y1="1330.00" x2="384.40" y2="1330.00" stroke="#111" stroke-width="1.7"/>
<text x="378.40" y="1334.32" font-size="12" font-weight="bold" stroke="#111" stroke-width="0.22" text-anchor="end" fill="#111">1</text>
<line x1="379.90" y1="1273.50" x2="384.40" y2="1273.50" stroke="#111" stroke-width="1.7"/>
<text x="378.40" y="1277.82" font-size="12" font-weight="bold" stroke="#111" stroke-width="0.22" text-anchor="end" fill="#111">2</text>
<line x1="379.90" y1="1217.00" x2="384.40" y2="1217.00" stroke="#111" stroke-width="1.7"/>
<text x="378.40" y="1221.32" font-size="12" font-weight="bold" stroke="#111" stroke-width="0.22" text-anchor="end" fill="#111">3</text>
<line x1="395.60" y1="1324.91" x2="395.60" y2="1330.00" stroke="#111" stroke-width="1.7"/>
<line x1="393.40" y1="1324.91" x2="397.80" y2="1324.91" stroke="#111" stroke-width="1.7"/>
<rect x="391.20" y="1330.00" width="8.80" height="56.50" fill="#fff" stroke="#111" stroke-width="1.7" stroke-linejoin="round"/>
<line x1="409.20" y1="1313.62" x2="409.20" y2="1318.70" stroke="#111" stroke-width="1.7"/>
<line x1="407.00" y1="1313.62" x2="411.40" y2="1313.62" stroke="#111" stroke-width="1.7"/>
<rect x="404.80" y="1318.70" width="8.80" height="67.80" fill="#000" stroke="#111" stroke-width="1.7" stroke-linejoin="round"/>
<clipPath id="g661"><rect x="405.75" y="1319.65" width="6.90" height="66.10"/></clipPath>
<g clip-path="url(#g661)" fill="#fff">
<rect x="405.65" y="1380.50" width="3.5" height="3.7"/>
<rect x="411.55" y="1380.50" width="3.5" height="3.7"/>
<rect x="405.65" y="1373.90" width="3.5" height="3.7"/>
<rect x="411.55" y="1373.90" width="3.5" height="3.7"/>
<rect x="405.65" y="1367.30" width="3.5" height="3.7"/>
<rect x="411.55" y="1367.30" width="3.5" height="3.7"/>
<rect x="405.65" y="1360.70" width="3.5" height="3.7"/>
<rect x="411.55" y="1360.70" width="3.5" height="3.7"/>
<rect x="405.65" y="1354.10" width="3.5" height="3.7"/>
<rect x="411.55" y="1354.10" width="3.5" height="3.7"/>
<rect x="405.65" y="1347.50" width="3.5" height="3.7"/>
<rect x="411.55" y="1347.50" width="3.5" height="3.7"/>
<rect x="405.65" y="1340.90" width="3.5" height="3.7"/>
<rect x="411.55" y="1340.90" width="3.5" height="3.7"/>
<rect x="405.65" y="1334.30" width="3.5" height="3.7"/>
<rect x="411.55" y="1334.30" width="3.5" height="3.7"/>
<rect x="405.65" y="1327.70" width="3.5" height="3.7"/>
<rect x="411.55" y="1327.70" width="3.5" height="3.7"/>
<rect x="405.65" y="1321.10" width="3.5" height="3.7"/>
<rect x="411.55" y="1321.10" width="3.5" height="3.7"/>
</g>
<polygon points="409.20,1307.10 409.93,1308.85 411.82,1309.00 410.38,1310.23 410.82,1312.07 409.20,1311.09 407.58,1312.07 408.02,1310.23 406.58,1309.00 408.47,1308.85" fill="#1a1a1a"/>
<line x1="422.80" y1="1301.35" x2="422.80" y2="1305.70" stroke="#111" stroke-width="1.7"/>
<line x1="420.60" y1="1301.35" x2="425.00" y2="1301.35" stroke="#111" stroke-width="1.7"/>
<rect x="418.40" y="1305.70" width="8.80" height="80.80" fill="url(#pdiag)" stroke="#111" stroke-width="1.7" stroke-linejoin="round"/>
<polygon points="419.72,1294.30 420.45,1296.05 422.34,1296.20 420.90,1297.43 421.34,1299.27 419.72,1298.29 418.11,1299.27 418.55,1297.43 417.11,1296.20 419.00,1296.05" fill="#1a1a1a"/>
<polygon points="425.87,1294.30 426.60,1296.05 428.49,1296.20 427.05,1297.43 427.49,1299.27 425.87,1298.29 424.26,1299.27 424.70,1297.43 423.26,1296.20 425.15,1296.05" fill="#1a1a1a"/>
<line x1="436.40" y1="1276.33" x2="436.40" y2="1280.51" stroke="#111" stroke-width="1.7"/>
<line x1="434.20" y1="1276.33" x2="438.60" y2="1276.33" stroke="#111" stroke-width="1.7"/>
<rect x="432.00" y="1280.51" width="8.80" height="105.99" fill="url(#pbrick)" stroke="#111" stroke-width="1.7" stroke-linejoin="round"/>
<polygon points="430.25,1269.70 430.98,1271.45 432.87,1271.60 431.43,1272.83 431.87,1274.67 430.25,1273.69 428.63,1274.67 429.07,1272.83 427.63,1271.60 429.52,1271.45" fill="#1a1a1a"/>
<polygon points="436.40,1269.70 437.13,1271.45 439.02,1271.60 437.58,1272.83 438.02,1274.67 436.40,1273.69 434.78,1274.67 435.22,1272.83 433.78,1271.60 435.67,1271.45" fill="#1a1a1a"/>
<polygon points="442.55,1269.70 443.28,1271.45 445.17,1271.60 443.73,1272.83 444.17,1274.67 442.55,1273.69 440.93,1274.67 441.37,1272.83 439.93,1271.60 441.82,1271.45" fill="#1a1a1a"/>
<line x1="416.00" y1="1386.50" x2="416.00" y2="1391.50" stroke="#111" stroke-width="1.7"/>
<text x="419.00" y="1401.00" font-size="11.8" font-weight="bold" stroke="#111" stroke-width="0.22" text-anchor="end" fill="#111" transform="rotate(-45 419.00 1401.00)">P-RIP3</text>
<line x1="458.80" y1="1323.22" x2="458.80" y2="1330.00" stroke="#111" stroke-width="1.7"/>
<line x1="456.60" y1="1323.22" x2="461.00" y2="1323.22" stroke="#111" stroke-width="1.7"/>
<rect x="454.40" y="1330.00" width="8.80" height="56.50" fill="#fff" stroke="#111" stroke-width="1.7" stroke-linejoin="round"/>
<line x1="472.40" y1="1279.15" x2="472.40" y2="1285.53" stroke="#111" stroke-width="1.7"/>
<line x1="470.20" y1="1279.15" x2="474.60" y2="1279.15" stroke="#111" stroke-width="1.7"/>
<rect x="468.00" y="1285.53" width="8.80" height="100.97" fill="#000" stroke="#111" stroke-width="1.7" stroke-linejoin="round"/>
<clipPath id="g704"><rect x="468.95" y="1286.48" width="6.90" height="99.27"/></clipPath>
<g clip-path="url(#g704)" fill="#fff">
<rect x="468.85" y="1380.50" width="3.5" height="3.7"/>
<rect x="474.75" y="1380.50" width="3.5" height="3.7"/>
<rect x="468.85" y="1373.90" width="3.5" height="3.7"/>
<rect x="474.75" y="1373.90" width="3.5" height="3.7"/>
<rect x="468.85" y="1367.30" width="3.5" height="3.7"/>
<rect x="474.75" y="1367.30" width="3.5" height="3.7"/>
<rect x="468.85" y="1360.70" width="3.5" height="3.7"/>
<rect x="474.75" y="1360.70" width="3.5" height="3.7"/>
<rect x="468.85" y="1354.10" width="3.5" height="3.7"/>
<rect x="474.75" y="1354.10" width="3.5" height="3.7"/>
<rect x="468.85" y="1347.50" width="3.5" height="3.7"/>
<rect x="474.75" y="1347.50" width="3.5" height="3.7"/>
<rect x="468.85" y="1340.90" width="3.5" height="3.7"/>
<rect x="474.75" y="1340.90" width="3.5" height="3.7"/>
<rect x="468.85" y="1334.30" width="3.5" height="3.7"/>
<rect x="474.75" y="1334.30" width="3.5" height="3.7"/>
<rect x="468.85" y="1327.70" width="3.5" height="3.7"/>
<rect x="474.75" y="1327.70" width="3.5" height="3.7"/>
<rect x="468.85" y="1321.10" width="3.5" height="3.7"/>
<rect x="474.75" y="1321.10" width="3.5" height="3.7"/>
<rect x="468.85" y="1314.50" width="3.5" height="3.7"/>
<rect x="474.75" y="1314.50" width="3.5" height="3.7"/>
<rect x="468.85" y="1307.90" width="3.5" height="3.7"/>
<rect x="474.75" y="1307.90" width="3.5" height="3.7"/>
<rect x="468.85" y="1301.30" width="3.5" height="3.7"/>
<rect x="474.75" y="1301.30" width="3.5" height="3.7"/>
<rect x="468.85" y="1294.70" width="3.5" height="3.7"/>
<rect x="474.75" y="1294.70" width="3.5" height="3.7"/>
<rect x="468.85" y="1288.10" width="3.5" height="3.7"/>
<rect x="474.75" y="1288.10" width="3.5" height="3.7"/>
</g>
<polygon points="465.25,1272.90 465.98,1274.65 467.87,1274.80 466.43,1276.03 466.87,1277.87 465.25,1276.89 463.63,1277.87 464.07,1276.03 462.63,1274.80 464.52,1274.65" fill="#1a1a1a"/>
<polygon points="471.40,1272.90 472.13,1274.65 474.02,1274.80 472.58,1276.03 473.02,1277.87 471.40,1276.89 469.78,1277.87 470.22,1276.03 468.78,1274.80 470.67,1274.65" fill="#1a1a1a"/>
<polygon points="477.55,1272.90 478.28,1274.65 480.17,1274.80 478.73,1276.03 479.17,1277.87 477.55,1276.89 475.93,1277.87 476.37,1276.03 474.93,1274.80 476.82,1274.65" fill="#1a1a1a"/>
<line x1="486.00" y1="1280.56" x2="486.00" y2="1286.33" stroke="#111" stroke-width="1.7"/>
<line x1="483.80" y1="1280.56" x2="488.20" y2="1280.56" stroke="#111" stroke-width="1.7"/>
<rect x="481.60" y="1286.33" width="8.80" height="100.17" fill="url(#pdiag)" stroke="#111" stroke-width="1.7" stroke-linejoin="round"/>
<polygon points="484.42,1272.90 485.15,1274.65 487.04,1274.80 485.60,1276.03 486.04,1277.87 484.42,1276.89 482.81,1277.87 483.25,1276.03 481.81,1274.80 483.70,1274.65" fill="#1a1a1a"/>
<polygon points="490.57,1272.90 491.30,1274.65 493.19,1274.80 491.75,1276.03 492.19,1277.87 490.57,1276.89 488.96,1277.87 489.40,1276.03 487.96,1274.80 489.85,1274.65" fill="#1a1a1a"/>
<line x1="499.60" y1="1240.84" x2="499.60" y2="1246.15" stroke="#111" stroke-width="1.7"/>
<line x1="497.40" y1="1240.84" x2="501.80" y2="1240.84" stroke="#111" stroke-width="1.7"/>
<rect x="495.20" y="1246.15" width="8.80" height="140.35" fill="url(#pbrick)" stroke="#111" stroke-width="1.7" stroke-linejoin="round"/>
<polygon points="493.45,1234.50 494.18,1236.25 496.07,1236.40 494.63,1237.63 495.07,1239.47 493.45,1238.49 491.83,1239.47 492.27,1237.63 490.83,1236.40 492.72,1236.25" fill="#1a1a1a"/>
<polygon points="499.60,1234.50 500.33,1236.25 502.22,1236.40 500.78,1237.63 501.22,1239.47 499.60,1238.49 497.98,1239.47 498.42,1237.63 496.98,1236.40 498.87,1236.25" fill="#1a1a1a"/>
<polygon points="505.75,1234.50 506.48,1236.25 508.37,1236.40 506.93,1237.63 507.37,1239.47 505.75,1238.49 504.13,1239.47 504.57,1237.63 503.13,1236.40 505.02,1236.25" fill="#1a1a1a"/>
<line x1="479.20" y1="1386.50" x2="479.20" y2="1391.50" stroke="#111" stroke-width="1.7"/>
<text x="482.00" y="1401.00" font-size="11.8" font-weight="bold" stroke="#111" stroke-width="0.22" text-anchor="end" fill="#111" transform="rotate(-45 482.00 1401.00)">P-MLKL</text>
<line x1="522.20" y1="1325.76" x2="522.20" y2="1330.00" stroke="#111" stroke-width="1.7"/>
<line x1="520.00" y1="1325.76" x2="524.40" y2="1325.76" stroke="#111" stroke-width="1.7"/>
<rect x="517.80" y="1330.00" width="8.80" height="56.50" fill="#fff" stroke="#111" stroke-width="1.7" stroke-linejoin="round"/>
<line x1="535.80" y1="1306.27" x2="535.80" y2="1310.68" stroke="#111" stroke-width="1.7"/>
<line x1="533.60" y1="1306.27" x2="538.00" y2="1306.27" stroke="#111" stroke-width="1.7"/>
<rect x="531.40" y="1310.68" width="8.80" height="75.82" fill="#000" stroke="#111" stroke-width="1.7" stroke-linejoin="round"/>
<clipPath id="g759"><rect x="532.35" y="1311.63" width="6.90" height="74.12"/></clipPath>
<g clip-path="url(#g759)" fill="#fff">
<rect x="532.25" y="1380.50" width="3.5" height="3.7"/>
<rect x="538.15" y="1380.50" width="3.5" height="3.7"/>
<rect x="532.25" y="1373.90" width="3.5" height="3.7"/>
<rect x="538.15" y="1373.90" width="3.5" height="3.7"/>
<rect x="532.25" y="1367.30" width="3.5" height="3.7"/>
<rect x="538.15" y="1367.30" width="3.5" height="3.7"/>
<rect x="532.25" y="1360.70" width="3.5" height="3.7"/>
<rect x="538.15" y="1360.70" width="3.5" height="3.7"/>
<rect x="532.25" y="1354.10" width="3.5" height="3.7"/>
<rect x="538.15" y="1354.10" width="3.5" height="3.7"/>
<rect x="532.25" y="1347.50" width="3.5" height="3.7"/>
<rect x="538.15" y="1347.50" width="3.5" height="3.7"/>
<rect x="532.25" y="1340.90" width="3.5" height="3.7"/>
<rect x="538.15" y="1340.90" width="3.5" height="3.7"/>
<rect x="532.25" y="1334.30" width="3.5" height="3.7"/>
<rect x="538.15" y="1334.30" width="3.5" height="3.7"/>
<rect x="532.25" y="1327.70" width="3.5" height="3.7"/>
<rect x="538.15" y="1327.70" width="3.5" height="3.7"/>
<rect x="532.25" y="1321.10" width="3.5" height="3.7"/>
<rect x="538.15" y="1321.10" width="3.5" height="3.7"/>
<rect x="532.25" y="1314.50" width="3.5" height="3.7"/>
<rect x="538.15" y="1314.50" width="3.5" height="3.7"/>
<rect x="532.25" y="1307.90" width="3.5" height="3.7"/>
<rect x="538.15" y="1307.90" width="3.5" height="3.7"/>
</g>
<polygon points="532.72,1298.80 533.45,1300.55 535.34,1300.70 533.90,1301.93 534.34,1303.77 532.72,1302.79 531.11,1303.77 531.55,1301.93 530.11,1300.70 532.00,1300.55" fill="#1a1a1a"/>
<polygon points="538.88,1298.80 539.60,1300.55 541.49,1300.70 540.05,1301.93 540.49,1303.77 538.88,1302.79 537.26,1303.77 537.70,1301.93 536.26,1300.70 538.15,1300.55" fill="#1a1a1a"/>
<line x1="549.40" y1="1309.94" x2="549.40" y2="1313.95" stroke="#111" stroke-width="1.7"/>
<line x1="547.20" y1="1309.94" x2="551.60" y2="1309.94" stroke="#111" stroke-width="1.7"/>
<rect x="545.00" y="1313.95" width="8.80" height="72.55" fill="url(#pdiag)" stroke="#111" stroke-width="1.7" stroke-linejoin="round"/>
<polygon points="546.32,1303.60 547.05,1305.35 548.94,1305.50 547.50,1306.73 547.94,1308.57 546.32,1307.59 544.71,1308.57 545.15,1306.73 543.71,1305.50 545.60,1305.35" fill="#1a1a1a"/>
<polygon points="552.48,1303.60 553.20,1305.35 555.09,1305.50 553.65,1306.73 554.09,1308.57 552.48,1307.59 550.86,1308.57 551.30,1306.73 549.86,1305.50 551.75,1305.35" fill="#1a1a1a"/>
<line x1="563.00" y1="1285.03" x2="563.00" y2="1288.59" stroke="#111" stroke-width="1.7"/>
<line x1="560.80" y1="1285.03" x2="565.20" y2="1285.03" stroke="#111" stroke-width="1.7"/>
<rect x="558.60" y="1288.59" width="8.80" height="97.91" fill="url(#pbrick)" stroke="#111" stroke-width="1.7" stroke-linejoin="round"/>
<polygon points="556.85,1277.40 557.58,1279.15 559.47,1279.30 558.03,1280.53 558.47,1282.37 556.85,1281.39 555.23,1282.37 555.67,1280.53 554.23,1279.30 556.12,1279.15" fill="#1a1a1a"/>
<polygon points="563.00,1277.40 563.73,1279.15 565.62,1279.30 564.18,1280.53 564.62,1282.37 563.00,1281.39 561.38,1282.37 561.82,1280.53 560.38,1279.30 562.27,1279.15" fill="#1a1a1a"/>
<polygon points="569.15,1277.40 569.88,1279.15 571.77,1279.30 570.33,1280.53 570.77,1282.37 569.15,1281.39 567.53,1282.37 567.97,1280.53 566.53,1279.30 568.42,1279.15" fill="#1a1a1a"/>
<line x1="542.60" y1="1386.50" x2="542.60" y2="1391.50" stroke="#111" stroke-width="1.7"/>
<text x="545.30" y="1401.00" font-size="11.8" font-weight="bold" stroke="#111" stroke-width="0.22" text-anchor="end" fill="#111" transform="rotate(-45 545.30 1401.00)">caspase-8</text>
<line x1="585.40" y1="1326.21" x2="585.40" y2="1330.00" stroke="#111" stroke-width="1.7"/>
<line x1="583.20" y1="1326.21" x2="587.60" y2="1326.21" stroke="#111" stroke-width="1.7"/>
<rect x="581.00" y="1330.00" width="8.80" height="56.50" fill="#fff" stroke="#111" stroke-width="1.7" stroke-linejoin="round"/>
<line x1="599.00" y1="1308.64" x2="599.00" y2="1312.48" stroke="#111" stroke-width="1.7"/>
<line x1="596.80" y1="1308.64" x2="601.20" y2="1308.64" stroke="#111" stroke-width="1.7"/>
<rect x="594.60" y="1312.48" width="8.80" height="74.02" fill="#000" stroke="#111" stroke-width="1.7" stroke-linejoin="round"/>
<clipPath id="g807"><rect x="595.55" y="1313.43" width="6.90" height="72.32"/></clipPath>
<g clip-path="url(#g807)" fill="#fff">
<rect x="595.45" y="1380.50" width="3.5" height="3.7"/>
<rect x="601.35" y="1380.50" width="3.5" height="3.7"/>
<rect x="595.45" y="1373.90" width="3.5" height="3.7"/>
<rect x="601.35" y="1373.90" width="3.5" height="3.7"/>
<rect x="595.45" y="1367.30" width="3.5" height="3.7"/>
<rect x="601.35" y="1367.30" width="3.5" height="3.7"/>
<rect x="595.45" y="1360.70" width="3.5" height="3.7"/>
<rect x="601.35" y="1360.70" width="3.5" height="3.7"/>
<rect x="595.45" y="1354.10" width="3.5" height="3.7"/>
<rect x="601.35" y="1354.10" width="3.5" height="3.7"/>
<rect x="595.45" y="1347.50" width="3.5" height="3.7"/>
<rect x="601.35" y="1347.50" width="3.5" height="3.7"/>
<rect x="595.45" y="1340.90" width="3.5" height="3.7"/>
<rect x="601.35" y="1340.90" width="3.5" height="3.7"/>
<rect x="595.45" y="1334.30" width="3.5" height="3.7"/>
<rect x="601.35" y="1334.30" width="3.5" height="3.7"/>
<rect x="595.45" y="1327.70" width="3.5" height="3.7"/>
<rect x="601.35" y="1327.70" width="3.5" height="3.7"/>
<rect x="595.45" y="1321.10" width="3.5" height="3.7"/>
<rect x="601.35" y="1321.10" width="3.5" height="3.7"/>
<rect x="595.45" y="1314.50" width="3.5" height="3.7"/>
<rect x="601.35" y="1314.50" width="3.5" height="3.7"/>
</g>
<polygon points="595.92,1301.80 596.65,1303.55 598.54,1303.70 597.10,1304.93 597.54,1306.77 595.92,1305.79 594.31,1306.77 594.75,1304.93 593.31,1303.70 595.20,1303.55" fill="#1a1a1a"/>
<polygon points="602.08,1301.80 602.80,1303.55 604.69,1303.70 603.25,1304.93 603.69,1306.77 602.08,1305.79 600.46,1306.77 600.90,1304.93 599.46,1303.70 601.35,1303.55" fill="#1a1a1a"/>
<line x1="612.60" y1="1313.62" x2="612.60" y2="1316.44" stroke="#111" stroke-width="1.7"/>
<line x1="610.40" y1="1313.62" x2="614.80" y2="1313.62" stroke="#111" stroke-width="1.7"/>
<rect x="608.20" y="1316.44" width="8.80" height="70.06" fill="url(#pdiag)" stroke="#111" stroke-width="1.7" stroke-linejoin="round"/>
<polygon points="609.52,1306.30 610.25,1308.05 612.14,1308.20 610.70,1309.43 611.14,1311.27 609.52,1310.29 607.91,1311.27 608.35,1309.43 606.91,1308.20 608.80,1308.05" fill="#1a1a1a"/>
<polygon points="615.68,1306.30 616.40,1308.05 618.29,1308.20 616.85,1309.43 617.29,1311.27 615.68,1310.29 614.06,1311.27 614.50,1309.43 613.06,1308.20 614.95,1308.05" fill="#1a1a1a"/>
<line x1="626.20" y1="1296.10" x2="626.20" y2="1299.89" stroke="#111" stroke-width="1.7"/>
<line x1="624.00" y1="1296.10" x2="628.40" y2="1296.10" stroke="#111" stroke-width="1.7"/>
<rect x="621.80" y="1299.89" width="8.80" height="86.61" fill="url(#pbrick)" stroke="#111" stroke-width="1.7" stroke-linejoin="round"/>
<polygon points="620.05,1288.80 620.78,1290.55 622.67,1290.70 621.23,1291.93 621.67,1293.77 620.05,1292.79 618.43,1293.77 618.87,1291.93 617.43,1290.70 619.32,1290.55" fill="#1a1a1a"/>
<polygon points="626.20,1288.80 626.93,1290.55 628.82,1290.70 627.38,1291.93 627.82,1293.77 626.20,1292.79 624.58,1293.77 625.02,1291.93 623.58,1290.70 625.47,1290.55" fill="#1a1a1a"/>
<polygon points="632.35,1288.80 633.08,1290.55 634.97,1290.70 633.53,1291.93 633.97,1293.77 632.35,1292.79 630.73,1293.77 631.17,1291.93 629.73,1290.70 631.62,1290.55" fill="#1a1a1a"/>
<line x1="605.80" y1="1386.50" x2="605.80" y2="1391.50" stroke="#111" stroke-width="1.7"/>
<text x="608.60" y="1401.00" font-size="11.8" font-weight="bold" stroke="#111" stroke-width="0.22" text-anchor="end" fill="#111" transform="rotate(-45 608.60 1401.00)">p-caspase-8</text>
<line x1="409.50" y1="1258.70" x2="436.60" y2="1258.70" stroke="#111" stroke-width="1.7"/>
<line x1="409.50" y1="1251.50" x2="409.50" y2="1265.90" stroke="#111" stroke-width="1.7"/>
<line x1="436.60" y1="1251.50" x2="436.60" y2="1265.90" stroke="#111" stroke-width="1.7"/>
<text x="422.60" y="1257.33" font-size="9.8" font-weight="bold" stroke="#111" stroke-width="0.45" text-anchor="middle" fill="#111" letter-spacing="-0.9">###</text>
<line x1="472.30" y1="1224.80" x2="499.40" y2="1224.80" stroke="#111" stroke-width="1.7"/>
<line x1="472.30" y1="1217.60" x2="472.30" y2="1232.00" stroke="#111" stroke-width="1.7"/>
<line x1="499.40" y1="1217.60" x2="499.40" y2="1232.00" stroke="#111" stroke-width="1.7"/>
<text x="485.40" y="1223.43" font-size="9.8" font-weight="bold" stroke="#111" stroke-width="0.45" text-anchor="middle" fill="#111" letter-spacing="-0.9">##</text>
<line x1="536.90" y1="1268.00" x2="563.20" y2="1268.00" stroke="#111" stroke-width="1.7"/>
<line x1="536.90" y1="1260.80" x2="536.90" y2="1275.20" stroke="#111" stroke-width="1.7"/>
<line x1="563.20" y1="1260.80" x2="563.20" y2="1275.20" stroke="#111" stroke-width="1.7"/>
<text x="549.60" y="1266.63" font-size="9.8" font-weight="bold" stroke="#111" stroke-width="0.45" text-anchor="middle" fill="#111" letter-spacing="-0.9">##</text>
<line x1="600.10" y1="1279.80" x2="626.70" y2="1279.80" stroke="#111" stroke-width="1.7"/>
<line x1="600.10" y1="1272.60" x2="600.10" y2="1287.00" stroke="#111" stroke-width="1.7"/>
<line x1="626.70" y1="1272.60" x2="626.70" y2="1287.00" stroke="#111" stroke-width="1.7"/>
<text x="612.95" y="1278.43" font-size="9.8" font-weight="bold" stroke="#111" stroke-width="0.45" text-anchor="middle" fill="#111" letter-spacing="-0.9">#</text>
<text x="362.60" y="1302.50" font-size="12.2" font-weight="bold" stroke="#111" stroke-width="0.22" text-anchor="middle" fill="#111" transform="rotate(-90 362.60 1302.50)">Relative ratio of Protein/GAPDH</text>
<text x="5.30" y="1446.20" font-size="20" font-weight="bold" stroke="#111" stroke-width="0.22" text-anchor="start" fill="#111">(I)</text>
<clipPath id="c865"><rect x="88.9" y="1454.7" width="185" height="36"/></clipPath>
<rect x="88.90" y="1454.70" width="185.00" height="36.00" fill="#e9e9e9" stroke="none" stroke-width="0" stroke-linejoin="round"/>
<g clip-path="url(#c865)">
<rect x="95.50" y="1470.55" width="44.00" height="9.30" rx="13.95" ry="4.65" fill="#000" opacity="0.97" filter="url(#b1)"/>
<rect x="138.00" y="1470.75" width="42.00" height="8.30" rx="12.45" ry="4.15" fill="#000" opacity="0.96" filter="url(#b1)"/>
<rect x="180.00" y="1470.80" width="40.00" height="7.80" rx="11.70" ry="3.90" fill="#000" opacity="0.96" filter="url(#b1)"/>
<rect x="224.50" y="1472.85" width="36.00" height="6.30" rx="9.45" ry="3.15" fill="#000" opacity="0.93" filter="url(#b1)"/>
</g>
<rect x="88.90" y="1454.70" width="185.00" height="36.00" fill="none" stroke="#2a2a2a" stroke-width="1.1" stroke-linejoin="round"/>
<text x="78.30" y="1475.00" font-size="14.3" text-anchor="end" fill="#111">α-SMA</text>
<clipPath id="c875"><rect x="91" y="1495" width="182" height="36.3"/></clipPath>
<rect x="91.00" y="1495.00" width="182.00" height="36.30" fill="#e9e9e9" stroke="none" stroke-width="0" stroke-linejoin="round"/>
<g clip-path="url(#c875)">
<rect x="98.00" y="1508.65" width="41.00" height="9.30" rx="13.95" ry="4.65" fill="#000" opacity="0.97" filter="url(#b1)"/>
<rect x="141.00" y="1508.85" width="39.00" height="7.30" rx="10.95" ry="3.65" fill="#000" opacity="0.96" filter="url(#b1)"/>
<rect x="182.00" y="1508.65" width="39.00" height="7.30" rx="10.95" ry="3.65" fill="#000" opacity="0.96" filter="url(#b1)"/>
<rect x="227.00" y="1510.45" width="35.50" height="6.30" rx="9.45" ry="3.15" fill="#000" opacity="0.94" filter="url(#b1)"/>
</g>
<rect x="91.00" y="1495.00" width="182.00" height="36.30" fill="none" stroke="#2a2a2a" stroke-width="1.1" stroke-linejoin="round"/>
<text x="77.00" y="1515.00" font-size="14.3" text-anchor="end" fill="#111">Collagen I</text>
<clipPath id="c885"><rect x="91" y="1535.6" width="185" height="36.8"/></clipPath>
<rect x="91.00" y="1535.60" width="185.00" height="36.80" fill="#e9e9e9" stroke="none" stroke-width="0" stroke-linejoin="round"/>
<g clip-path="url(#c885)">
<rect x="95.50" y="1550.45" width="44.00" height="9.30" rx="13.95" ry="4.65" fill="#000" opacity="0.97" filter="url(#b1)"/>
<rect x="138.00" y="1550.20" width="42.00" height="8.80" rx="13.20" ry="4.40" fill="#000" opacity="0.97" filter="url(#b1)"/>
<rect x="179.00" y="1549.95" width="41.00" height="8.30" rx="12.45" ry="4.15" fill="#000" opacity="0.96" filter="url(#b1)"/>
<rect x="222.00" y="1550.20" width="37.00" height="6.80" rx="10.20" ry="3.40" fill="#000" opacity="0.94" filter="url(#b1)"/>
</g>
<rect x="91.00" y="1535.60" width="185.00" height="36.80" fill="none" stroke="#2a2a2a" stroke-width="1.1" stroke-linejoin="round"/>
<text x="78.60" y="1558.60" font-size="14.3" text-anchor="end" fill="#111">Collagen III</text>
<clipPath id="c895"><rect x="91" y="1576.6" width="185" height="36"/></clipPath>
<rect x="91.00" y="1576.60" width="185.00" height="36.00" fill="#e9e9e9" stroke="none" stroke-width="0" stroke-linejoin="round"/>
<g clip-path="url(#c895)">
<rect x="101.50" y="1591.90" width="34.00" height="6.80" rx="10.20" ry="3.40" fill="#000" opacity="0.94" filter="url(#b1)"/>
<rect x="142.00" y="1590.85" width="38.00" height="8.30" rx="12.45" ry="4.15" fill="#000" opacity="0.97" filter="url(#b1)"/>
<rect x="182.00" y="1590.55" width="40.00" height="8.30" rx="12.45" ry="4.15" fill="#000" opacity="0.97" filter="url(#b1)"/>
<rect x="224.50" y="1588.85" width="42.50" height="10.30" rx="15.45" ry="5.15" fill="#000" opacity="0.97" filter="url(#b1)"/>
<rect x="244.00" y="1580.50" width="8.00" height="5.00" rx="4.00" ry="2.50" fill="#000" opacity="0.25" filter="url(#b2)"/>
</g>
<rect x="91.00" y="1576.60" width="185.00" height="36.00" fill="none" stroke="#2a2a2a" stroke-width="1.1" stroke-linejoin="round"/>
<text x="78.30" y="1604.30" font-size="14.3" text-anchor="end" fill="#111">MMP2</text>
<clipPath id="c906"><rect x="91" y="1617.8" width="185" height="36.4"/></clipPath>
<rect x="91.00" y="1617.80" width="185.00" height="36.40" fill="#e9e9e9" stroke="none" stroke-width="0" stroke-linejoin="round"/>
<g clip-path="url(#c906)">
<rect x="101.50" y="1631.55" width="34.00" height="6.30" rx="9.45" ry="3.15" fill="#000" opacity="0.92" filter="url(#b1)"/>
<rect x="144.00" y="1630.80" width="36.00" height="7.80" rx="11.70" ry="3.90" fill="#000" opacity="0.96" filter="url(#b1)"/>
<rect x="186.00" y="1630.75" width="34.00" height="7.30" rx="10.95" ry="3.65" fill="#000" opacity="0.95" filter="url(#b1)"/>
<rect x="226.50" y="1629.55" width="38.00" height="8.30" rx="12.45" ry="4.15" fill="#000" opacity="0.97" filter="url(#b1)"/>
</g>
<rect x="91.00" y="1617.80" width="185.00" height="36.40" fill="none" stroke="#2a2a2a" stroke-width="1.1" stroke-linejoin="round"/>
<text x="78.30" y="1643.00" font-size="14.3" text-anchor="end" fill="#111">MMP3</text>
<clipPath id="c916"><rect x="91" y="1659.3" width="185" height="36"/></clipPath>
<rect x="91.00" y="1659.30" width="185.00" height="36.00" fill="#e9e9e9" stroke="none" stroke-width="0" stroke-linejoin="round"/>
<g clip-path="url(#c916)">
<rect x="102.00" y="1673.90" width="33.50" height="9.80" rx="14.70" ry="4.90" fill="#000" opacity="0.93" filter="url(#b15)"/>
<rect x="144.00" y="1672.40" width="36.00" height="11.80" rx="17.70" ry="5.90" fill="#000" opacity="0.97" filter="url(#b15)"/>
<rect x="184.00" y="1671.35" width="38.00" height="12.30" rx="18.45" ry="6.15" fill="#000" opacity="0.97" filter="url(#b15)"/>
<rect x="226.50" y="1669.85" width="39.50" height="13.30" rx="19.75" ry="6.65" fill="#000" opacity="0.97" filter="url(#b15)"/>
<rect x="108.00" y="1681.05" width="22.00" height="2.50" rx="3.75" ry="1.25" fill="#000" opacity="-0.0" filter="url(#b1)"/>
</g>
<rect x="91.00" y="1659.30" width="185.00" height="36.00" fill="none" stroke="#2a2a2a" stroke-width="1.1" stroke-linejoin="round"/>
<text x="78.30" y="1687.00" font-size="14.3" text-anchor="end" fill="#111">MMP9</text>
<clipPath id="c927"><rect x="91" y="1700.3" width="185" height="36"/></clipPath>
<rect x="91.00" y="1700.30" width="185.00" height="36.00" fill="#e9e9e9" stroke="none" stroke-width="0" stroke-linejoin="round"/>
<g clip-path="url(#c927)">
<rect x="101.50" y="1716.05" width="40.50" height="9.30" rx="13.95" ry="4.65" fill="#000" opacity="0.97" filter="url(#b1)"/>
<rect x="144.00" y="1716.55" width="36.00" height="8.30" rx="12.45" ry="4.15" fill="#000" opacity="0.97" filter="url(#b1)"/>
<rect x="184.00" y="1716.80" width="36.00" height="7.80" rx="11.70" ry="3.90" fill="#000" opacity="0.96" filter="url(#b1)"/>
<rect x="226.50" y="1717.05" width="36.00" height="6.30" rx="9.45" ry="3.15" fill="#000" opacity="0.94" filter="url(#b1)"/>
</g>
<rect x="91.00" y="1700.30" width="185.00" height="36.00" fill="none" stroke="#2a2a2a" stroke-width="1.1" stroke-linejoin="round"/>
<text x="78.30" y="1732.50" font-size="14.3" text-anchor="end" fill="#111">TIMP4</text>
<clipPath id="c937"><rect x="91" y="1741.8" width="185" height="36.5"/></clipPath>
<rect x="91.00" y="1741.80" width="185.00" height="36.50" fill="#e9e9e9" stroke="none" stroke-width="0" stroke-linejoin="round"/>
<g clip-path="url(#c937)">
<rect x="103.50" y="1758.30" width="34.00" height="7.80" rx="11.70" ry="3.90" fill="#000" opacity="0.97" filter="url(#b1)"/>
<rect x="146.00" y="1758.30" width="34.00" height="7.80" rx="11.70" ry="3.90" fill="#000" opacity="0.97" filter="url(#b1)"/>
<rect x="186.50" y="1758.30" width="33.50" height="7.80" rx="11.70" ry="3.90" fill="#000" opacity="0.97" filter="url(#b1)"/>
<rect x="226.50" y="1757.75" width="32.50" height="8.30" rx="12.45" ry="4.15" fill="#000" opacity="0.97" filter="url(#b1)"/>
</g>
<rect x="91.00" y="1741.80" width="185.00" height="36.50" fill="none" stroke="#2a2a2a" stroke-width="1.1" stroke-linejoin="round"/>
<text x="77.80" y="1769.30" font-size="14.3" text-anchor="end" fill="#111">GAPDH</text>
<text x="128.50" y="1792.00" font-size="14" text-anchor="end" fill="#111" transform="rotate(-45 128.50 1792.00)">Mimic NC+Si NC</text>
<text x="166.50" y="1791.50" font-size="14" text-anchor="end" fill="#111" transform="rotate(-45 166.50 1791.50)">Mimic+Si NC</text>
<text x="209.50" y="1792.00" font-size="14" text-anchor="end" fill="#111" transform="rotate(-45 209.50 1792.00)">Mimic NC+Si COL1A2</text>
<text x="252.50" y="1790.50" font-size="14" text-anchor="end" fill="#111" transform="rotate(-45 252.50 1790.50)">Mimic+Si COL1A2</text>
<rect x="393.00" y="1463.15" width="14.20" height="4.70" fill="#fff" stroke="#111" stroke-width="1.7" stroke-linejoin="round"/>
<text x="414.10" y="1468.80" font-size="10.95" font-weight="bold" stroke="#111" stroke-width="0.22" text-anchor="start" fill="#111">Mimic NC+Si NC</text>
<rect x="530.20" y="1462.55" width="14.20" height="4.70" fill="#000" stroke="#111" stroke-width="1.7" stroke-linejoin="round"/>
<rect x="531.10" y="1463.36" width="3.15" height="2.97" fill="#fff"/>
<rect x="536.37" y="1463.36" width="3.60" height="2.97" fill="#fff"/>
<rect x="542.26" y="1463.36" width="1.24" height="2.97" fill="#fff"/>
<text x="551.20" y="1469.30" font-size="10.95" font-weight="bold" stroke="#111" stroke-width="0.22" text-anchor="start" fill="#111">Mimic+Si NC</text>
<rect x="393.00" y="1477.45" width="14.20" height="4.70" fill="url(#pdiag)" stroke="#111" stroke-width="1.7" stroke-linejoin="round"/>
<text x="414.10" y="1483.20" font-size="10.95" font-weight="bold" stroke="#111" stroke-width="0.22" text-anchor="start" fill="#111">Mimic NC+Si COL1A2</text>
<rect x="530.20" y="1477.45" width="14.20" height="4.70" fill="url(#pbrick)" stroke="#111" stroke-width="1.7" stroke-linejoin="round"/>
<text x="549.90" y="1483.40" font-size="10.95" font-weight="bold" stroke="#111" stroke-width="0.22" text-anchor="start" fill="#111">Mimic+Si COL1A2</text>
<line x1="386.90" y1="1460.65" x2="386.90" y2="1620.05" stroke="#111" stroke-width="1.7"/>
<line x1="386.05" y1="1619.20" x2="624.20" y2="1619.20" stroke="#111" stroke-width="1.7"/>
<line x1="382.40" y1="1619.20" x2="386.90" y2="1619.20" stroke="#111" stroke-width="1.7"/>
<text x="380.90" y="1623.23" font-size="11.2" font-weight="bold" stroke="#111" stroke-width="0.22" text-anchor="end" fill="#111">0.0</text>
<line x1="382.40" y1="1566.63" x2="386.90" y2="1566.63" stroke="#111" stroke-width="1.7"/>
<text x="380.90" y="1570.67" font-size="11.2" font-weight="bold" stroke="#111" stroke-width="0.22" text-anchor="end" fill="#111">0.5</text>
<line x1="382.40" y1="1514.07" x2="386.90" y2="1514.07" stroke="#111" stroke-width="1.7"/>
<text x="380.90" y="1518.10" font-size="11.2" font-weight="bold" stroke="#111" stroke-width="0.22" text-anchor="end" fill="#111">1.0</text>
<line x1="382.40" y1="1461.50" x2="386.90" y2="1461.50" stroke="#111" stroke-width="1.7"/>
<text x="380.90" y="1465.53" font-size="11.2" font-weight="bold" stroke="#111" stroke-width="0.22" text-anchor="end" fill="#111">1.5</text>
<line x1="400.65" y1="1508.49" x2="400.65" y2="1514.07" stroke="#111" stroke-width="1.7"/>
<line x1="397.92" y1="1508.49" x2="403.38" y2="1508.49" stroke="#111" stroke-width="1.7"/>
<rect x="395.20" y="1514.07" width="10.90" height="105.13" fill="#fff" stroke="#111" stroke-width="1.7" stroke-linejoin="round"/>
<line x1="417.60" y1="1537.41" x2="417.60" y2="1541.19" stroke="#111" stroke-width="1.7"/>
<line x1="414.87" y1="1537.41" x2="420.32" y2="1537.41" stroke="#111" stroke-width="1.7"/>
<rect x="412.15" y="1541.19" width="10.90" height="78.01" fill="#000" stroke="#111" stroke-width="1.7" stroke-linejoin="round"/>
<clipPath id="g978"><rect x="413.10" y="1542.14" width="9.00" height="76.31"/></clipPath>
<g clip-path="url(#g978)" fill="#fff">
<rect x="413.10" y="1613.50" width="3.3" height="3.4"/>
<rect x="418.80" y="1613.50" width="3.3" height="3.4"/>
<rect x="413.10" y="1607.40" width="3.3" height="3.4"/>
<rect x="418.80" y="1607.40" width="3.3" height="3.4"/>
<rect x="413.10" y="1601.30" width="3.3" height="3.4"/>
<rect x="418.80" y="1601.30" width="3.3" height="3.4"/>
<rect x="413.10" y="1595.20" width="3.3" height="3.4"/>
<rect x="418.80" y="1595.20" width="3.3" height="3.4"/>
<rect x="413.10" y="1589.10" width="3.3" height="3.4"/>
<rect x="418.80" y="1589.10" width="3.3" height="3.4"/>
<rect x="413.10" y="1583.00" width="3.3" height="3.4"/>
<rect x="418.80" y="1583.00" width="3.3" height="3.4"/>
<rect x="413.10" y="1576.90" width="3.3" height="3.4"/>
<rect x="418.80" y="1576.90" width="3.3" height="3.4"/>
<rect x="413.10" y="1570.80" width="3.3" height="3.4"/>
<rect x="418.80" y="1570.80" width="3.3" height="3.4"/>
<rect x="413.10" y="1564.70" width="3.3" height="3.4"/>
<rect x="418.80" y="1564.70" width="3.3" height="3.4"/>
<rect x="413.10" y="1558.60" width="3.3" height="3.4"/>
<rect x="418.80" y="1558.60" width="3.3" height="3.4"/>
<rect x="413.10" y="1552.50" width="3.3" height="3.4"/>
<rect x="418.80" y="1552.50" width="3.3" height="3.4"/>
<rect x="413.10" y="1546.40" width="3.3" height="3.4"/>
<rect x="418.80" y="1546.40" width="3.3" height="3.4"/>
<rect x="413.10" y="1540.30" width="3.3" height="3.4"/>
<rect x="418.80" y="1540.30" width="3.3" height="3.4"/>
</g>
<polygon points="414.52,1531.20 415.25,1532.95 417.14,1533.10 415.70,1534.33 416.14,1536.17 414.52,1535.19 412.91,1536.17 413.35,1534.33 411.91,1533.10 413.80,1532.95" fill="#1a1a1a"/>
<polygon points="420.67,1531.20 421.40,1532.95 423.29,1533.10 421.85,1534.33 422.29,1536.17 420.67,1535.19 419.06,1536.17 419.50,1534.33 418.06,1533.10 419.95,1532.95" fill="#1a1a1a"/>
<line x1="434.55" y1="1543.50" x2="434.55" y2="1546.76" stroke="#111" stroke-width="1.7"/>
<line x1="431.82" y1="1543.50" x2="437.27" y2="1543.50" stroke="#111" stroke-width="1.7"/>
<rect x="429.10" y="1546.76" width="10.90" height="72.44" fill="url(#pdiag)" stroke="#111" stroke-width="1.7" stroke-linejoin="round"/>
<polygon points="428.40,1537.20 429.13,1538.95 431.02,1539.10 429.58,1540.33 430.02,1542.17 428.40,1541.19 426.78,1542.17 427.22,1540.33 425.78,1539.10 427.67,1538.95" fill="#1a1a1a"/>
<polygon points="434.55,1537.20 435.28,1538.95 437.17,1539.10 435.73,1540.33 436.17,1542.17 434.55,1541.19 432.93,1542.17 433.37,1540.33 431.93,1539.10 433.82,1538.95" fill="#1a1a1a"/>
<polygon points="440.70,1537.20 441.43,1538.95 443.32,1539.10 441.88,1540.33 442.32,1542.17 440.70,1541.19 439.08,1542.17 439.52,1540.33 438.08,1539.10 439.97,1538.95" fill="#1a1a1a"/>
<line x1="451.50" y1="1564.32" x2="451.50" y2="1568.11" stroke="#111" stroke-width="1.7"/>
<line x1="448.77" y1="1564.32" x2="454.22" y2="1564.32" stroke="#111" stroke-width="1.7"/>
<rect x="446.05" y="1568.11" width="10.90" height="51.09" fill="url(#pbrick)" stroke="#111" stroke-width="1.7" stroke-linejoin="round"/>
<polygon points="445.35,1557.30 446.08,1559.05 447.97,1559.20 446.53,1560.43 446.97,1562.27 445.35,1561.29 443.73,1562.27 444.17,1560.43 442.73,1559.20 444.62,1559.05" fill="#1a1a1a"/>
<polygon points="451.50,1557.30 452.23,1559.05 454.12,1559.20 452.68,1560.43 453.12,1562.27 451.50,1561.29 449.88,1562.27 450.32,1560.43 448.88,1559.20 450.77,1559.05" fill="#1a1a1a"/>
<polygon points="457.65,1557.30 458.38,1559.05 460.27,1559.20 458.83,1560.43 459.27,1562.27 457.65,1561.29 456.03,1562.27 456.47,1560.43 455.03,1559.20 456.92,1559.05" fill="#1a1a1a"/>
<line x1="426.07" y1="1619.20" x2="426.07" y2="1624.20" stroke="#111" stroke-width="1.7"/>
<text x="427.50" y="1633.50" font-size="11" font-weight="bold" stroke="#111" stroke-width="0.22" text-anchor="end" fill="#111" transform="rotate(-45 427.50 1633.50)">α-SMA</text>
<line x1="479.65" y1="1509.86" x2="479.65" y2="1514.07" stroke="#111" stroke-width="1.7"/>
<line x1="476.92" y1="1509.86" x2="482.38" y2="1509.86" stroke="#111" stroke-width="1.7"/>
<rect x="474.20" y="1514.07" width="10.90" height="105.13" fill="#fff" stroke="#111" stroke-width="1.7" stroke-linejoin="round"/>
<line x1="496.60" y1="1533.41" x2="496.60" y2="1537.20" stroke="#111" stroke-width="1.7"/>
<line x1="493.87" y1="1533.41" x2="499.32" y2="1533.41" stroke="#111" stroke-width="1.7"/>
<rect x="491.15" y="1537.20" width="10.90" height="82.00" fill="#000" stroke="#111" stroke-width="1.7" stroke-linejoin="round"/>
<clipPath id="g1029"><rect x="492.10" y="1538.15" width="9.00" height="80.30"/></clipPath>
<g clip-path="url(#g1029)" fill="#fff">
<rect x="492.10" y="1613.50" width="3.3" height="3.4"/>
<rect x="497.80" y="1613.50" width="3.3" height="3.4"/>
<rect x="492.10" y="1607.40" width="3.3" height="3.4"/>
<rect x="497.80" y="1607.40" width="3.3" height="3.4"/>
<rect x="492.10" y="1601.30" width="3.3" height="3.4"/>
<rect x="497.80" y="1601.30" width="3.3" height="3.4"/>
<rect x="492.10" y="1595.20" width="3.3" height="3.4"/>
<rect x="497.80" y="1595.20" width="3.3" height="3.4"/>
<rect x="492.10" y="1589.10" width="3.3" height="3.4"/>
<rect x="497.80" y="1589.10" width="3.3" height="3.4"/>
<rect x="492.10" y="1583.00" width="3.3" height="3.4"/>
<rect x="497.80" y="1583.00" width="3.3" height="3.4"/>
<rect x="492.10" y="1576.90" width="3.3" height="3.4"/>
<rect x="497.80" y="1576.90" width="3.3" height="3.4"/>
<rect x="492.10" y="1570.80" width="3.3" height="3.4"/>
<rect x="497.80" y="1570.80" width="3.3" height="3.4"/>
<rect x="492.10" y="1564.70" width="3.3" height="3.4"/>
<rect x="497.80" y="1564.70" width="3.3" height="3.4"/>
<rect x="492.10" y="1558.60" width="3.3" height="3.4"/>
<rect x="497.80" y="1558.60" width="3.3" height="3.4"/>
<rect x="492.10" y="1552.50" width="3.3" height="3.4"/>
<rect x="497.80" y="1552.50" width="3.3" height="3.4"/>
<rect x="492.10" y="1546.40" width="3.3" height="3.4"/>
<rect x="497.80" y="1546.40" width="3.3" height="3.4"/>
<rect x="492.10" y="1540.30" width="3.3" height="3.4"/>
<rect x="497.80" y="1540.30" width="3.3" height="3.4"/>
<rect x="492.10" y="1534.20" width="3.3" height="3.4"/>
<rect x="497.80" y="1534.20" width="3.3" height="3.4"/>
</g>
<polygon points="493.52,1527.40 494.25,1529.15 496.14,1529.30 494.70,1530.53 495.14,1532.37 493.52,1531.39 491.91,1532.37 492.35,1530.53 490.91,1529.30 492.80,1529.15" fill="#1a1a1a"/>
<polygon points="499.67,1527.40 500.40,1529.15 502.29,1529.30 500.85,1530.53 501.29,1532.37 499.67,1531.39 498.06,1532.37 498.50,1530.53 497.06,1529.30 498.95,1529.15" fill="#1a1a1a"/>
<line x1="513.55" y1="1536.14" x2="513.55" y2="1539.93" stroke="#111" stroke-width="1.7"/>
<line x1="510.82" y1="1536.14" x2="516.27" y2="1536.14" stroke="#111" stroke-width="1.7"/>
<rect x="508.10" y="1539.93" width="10.90" height="79.27" fill="url(#pdiag)" stroke="#111" stroke-width="1.7" stroke-linejoin="round"/>
<polygon points="510.47,1530.40 511.20,1532.15 513.09,1532.30 511.65,1533.53 512.09,1535.37 510.47,1534.39 508.86,1535.37 509.30,1533.53 507.86,1532.30 509.75,1532.15" fill="#1a1a1a"/>
<polygon points="516.62,1530.40 517.35,1532.15 519.24,1532.30 517.80,1533.53 518.24,1535.37 516.62,1534.39 515.01,1535.37 515.45,1533.53 514.01,1532.30 515.90,1532.15" fill="#1a1a1a"/>
<line x1="530.50" y1="1567.68" x2="530.50" y2="1572.63" stroke="#111" stroke-width="1.7"/>
<line x1="527.77" y1="1567.68" x2="533.23" y2="1567.68" stroke="#111" stroke-width="1.7"/>
<rect x="525.05" y="1572.63" width="10.90" height="46.57" fill="url(#pbrick)" stroke="#111" stroke-width="1.7" stroke-linejoin="round"/>
<polygon points="524.35,1561.90 525.08,1563.65 526.97,1563.80 525.53,1565.03 525.97,1566.87 524.35,1565.89 522.73,1566.87 523.17,1565.03 521.73,1563.80 523.62,1563.65" fill="#1a1a1a"/>
<polygon points="530.50,1561.90 531.23,1563.65 533.12,1563.80 531.68,1565.03 532.12,1566.87 530.50,1565.89 528.88,1566.87 529.32,1565.03 527.88,1563.80 529.77,1563.65" fill="#1a1a1a"/>
<polygon points="536.65,1561.90 537.38,1563.65 539.27,1563.80 537.83,1565.03 538.27,1566.87 536.65,1565.89 535.03,1566.87 535.47,1565.03 534.03,1563.80 535.92,1563.65" fill="#1a1a1a"/>
<line x1="505.07" y1="1619.20" x2="505.07" y2="1624.20" stroke="#111" stroke-width="1.7"/>
<text x="506.50" y="1633.50" font-size="11" font-weight="bold" stroke="#111" stroke-width="0.22" text-anchor="end" fill="#111" transform="rotate(-45 506.50 1633.50)">Collagen I</text>
<line x1="558.45" y1="1508.49" x2="558.45" y2="1514.07" stroke="#111" stroke-width="1.7"/>
<line x1="555.73" y1="1508.49" x2="561.18" y2="1508.49" stroke="#111" stroke-width="1.7"/>
<rect x="553.00" y="1514.07" width="10.90" height="105.13" fill="#fff" stroke="#111" stroke-width="1.7" stroke-linejoin="round"/>
<line x1="575.40" y1="1529.63" x2="575.40" y2="1533.41" stroke="#111" stroke-width="1.7"/>
<line x1="572.68" y1="1529.63" x2="578.13" y2="1529.63" stroke="#111" stroke-width="1.7"/>
<rect x="569.95" y="1533.41" width="10.90" height="85.79" fill="#000" stroke="#111" stroke-width="1.7" stroke-linejoin="round"/>
<clipPath id="g1081"><rect x="570.90" y="1534.36" width="9.00" height="84.09"/></clipPath>
<g clip-path="url(#g1081)" fill="#fff">
<rect x="570.90" y="1613.50" width="3.3" height="3.4"/>
<rect x="576.60" y="1613.50" width="3.3" height="3.4"/>
<rect x="570.90" y="1607.40" width="3.3" height="3.4"/>
<rect x="576.60" y="1607.40" width="3.3" height="3.4"/>
<rect x="570.90" y="1601.30" width="3.3" height="3.4"/>
<rect x="576.60" y="1601.30" width="3.3" height="3.4"/>
<rect x="570.90" y="1595.20" width="3.3" height="3.4"/>
<rect x="576.60" y="1595.20" width="3.3" height="3.4"/>
<rect x="570.90" y="1589.10" width="3.3" height="3.4"/>
<rect x="576.60" y="1589.10" width="3.3" height="3.4"/>
<rect x="570.90" y="1583.00" width="3.3" height="3.4"/>
<rect x="576.60" y="1583.00" width="3.3" height="3.4"/>
<rect x="570.90" y="1576.90" width="3.3" height="3.4"/>
<rect x="576.60" y="1576.90" width="3.3" height="3.4"/>
<rect x="570.90" y="1570.80" width="3.3" height="3.4"/>
<rect x="576.60" y="1570.80" width="3.3" height="3.4"/>
<rect x="570.90" y="1564.70" width="3.3" height="3.4"/>
<rect x="576.60" y="1564.70" width="3.3" height="3.4"/>
<rect x="570.90" y="1558.60" width="3.3" height="3.4"/>
<rect x="576.60" y="1558.60" width="3.3" height="3.4"/>
<rect x="570.90" y="1552.50" width="3.3" height="3.4"/>
<rect x="576.60" y="1552.50" width="3.3" height="3.4"/>
<rect x="570.90" y="1546.40" width="3.3" height="3.4"/>
<rect x="576.60" y="1546.40" width="3.3" height="3.4"/>
<rect x="570.90" y="1540.30" width="3.3" height="3.4"/>
<rect x="576.60" y="1540.30" width="3.3" height="3.4"/>
<rect x="570.90" y="1534.20" width="3.3" height="3.4"/>
<rect x="576.60" y="1534.20" width="3.3" height="3.4"/>
</g>
<polygon points="572.33,1523.70 573.05,1525.45 574.94,1525.60 573.50,1526.83 573.94,1528.67 572.33,1527.69 570.71,1528.67 571.15,1526.83 569.71,1525.60 571.60,1525.45" fill="#1a1a1a"/>
<polygon points="578.48,1523.70 579.20,1525.45 581.09,1525.60 579.65,1526.83 580.09,1528.67 578.48,1527.69 576.86,1528.67 577.30,1526.83 575.86,1525.60 577.75,1525.45" fill="#1a1a1a"/>
<line x1="592.35" y1="1530.36" x2="592.35" y2="1534.15" stroke="#111" stroke-width="1.7"/>
<line x1="589.62" y1="1530.36" x2="595.08" y2="1530.36" stroke="#111" stroke-width="1.7"/>
<rect x="586.90" y="1534.15" width="10.90" height="85.05" fill="url(#pdiag)" stroke="#111" stroke-width="1.7" stroke-linejoin="round"/>
<polygon points="589.27,1524.90 590.00,1526.65 591.89,1526.80 590.45,1528.03 590.89,1529.87 589.27,1528.89 587.66,1529.87 588.10,1528.03 586.66,1526.80 588.55,1526.65" fill="#1a1a1a"/>
<polygon points="595.43,1524.90 596.15,1526.65 598.04,1526.80 596.60,1528.03 597.04,1529.87 595.43,1528.89 593.81,1529.87 594.25,1528.03 592.81,1526.80 594.70,1526.65" fill="#1a1a1a"/>
<line x1="609.30" y1="1555.59" x2="609.30" y2="1559.38" stroke="#111" stroke-width="1.7"/>
<line x1="606.58" y1="1555.59" x2="612.03" y2="1555.59" stroke="#111" stroke-width="1.7"/>
<rect x="603.85" y="1559.38" width="10.90" height="59.82" fill="url(#pbrick)" stroke="#111" stroke-width="1.7" stroke-linejoin="round"/>
<polygon points="603.15,1549.80 603.88,1551.55 605.77,1551.70 604.33,1552.93 604.77,1554.77 603.15,1553.79 601.53,1554.77 601.97,1552.93 600.53,1551.70 602.42,1551.55" fill="#1a1a1a"/>
<polygon points="609.30,1549.80 610.03,1551.55 611.92,1551.70 610.48,1552.93 610.92,1554.77 609.30,1553.79 607.68,1554.77 608.12,1552.93 606.68,1551.70 608.57,1551.55" fill="#1a1a1a"/>
<polygon points="615.45,1549.80 616.18,1551.55 618.07,1551.70 616.63,1552.93 617.07,1554.77 615.45,1553.79 613.83,1554.77 614.27,1552.93 612.83,1551.70 614.72,1551.55" fill="#1a1a1a"/>
<line x1="583.88" y1="1619.20" x2="583.88" y2="1624.20" stroke="#111" stroke-width="1.7"/>
<text x="585.00" y="1633.50" font-size="11" font-weight="bold" stroke="#111" stroke-width="0.22" text-anchor="end" fill="#111" transform="rotate(-45 585.00 1633.50)">Collagen III</text>
<line x1="417.60" y1="1522.50" x2="451.70" y2="1522.50" stroke="#111" stroke-width="1.7"/>
<line x1="417.60" y1="1515.30" x2="417.60" y2="1529.70" stroke="#111" stroke-width="1.7"/>
<line x1="451.70" y1="1515.30" x2="451.70" y2="1529.70" stroke="#111" stroke-width="1.7"/>
<text x="434.20" y="1521.13" font-size="9.8" font-weight="bold" stroke="#111" stroke-width="0.45" text-anchor="middle" fill="#111" letter-spacing="-0.9">##</text>
<line x1="496.70" y1="1517.00" x2="530.10" y2="1517.00" stroke="#111" stroke-width="1.7"/>
<line x1="496.70" y1="1509.80" x2="496.70" y2="1524.20" stroke="#111" stroke-width="1.7"/>
<line x1="530.10" y1="1509.80" x2="530.10" y2="1524.20" stroke="#111" stroke-width="1.7"/>
<text x="512.95" y="1515.63" font-size="9.8" font-weight="bold" stroke="#111" stroke-width="0.45" text-anchor="middle" fill="#111" letter-spacing="-0.9">###</text>
<line x1="575.00" y1="1516.50" x2="609.70" y2="1516.50" stroke="#111" stroke-width="1.7"/>
<line x1="575.00" y1="1509.30" x2="575.00" y2="1523.70" stroke="#111" stroke-width="1.7"/>
<line x1="609.70" y1="1509.30" x2="609.70" y2="1523.70" stroke="#111" stroke-width="1.7"/>
<text x="591.90" y="1515.13" font-size="9.8" font-weight="bold" stroke="#111" stroke-width="0.45" text-anchor="middle" fill="#111" letter-spacing="-0.9">##</text>
<text x="356.80" y="1541.00" font-size="11.45" font-weight="bold" stroke="#111" stroke-width="0.22" text-anchor="middle" fill="#111" transform="rotate(-90 356.80 1541.00)">Relative ratio of Protein/GAPDH</text>
<line x1="386.90" y1="1685.15" x2="386.90" y2="1852.25" stroke="#111" stroke-width="1.7"/>
<line x1="386.05" y1="1851.40" x2="634.80" y2="1851.40" stroke="#111" stroke-width="1.7"/>
<line x1="382.40" y1="1851.40" x2="386.90" y2="1851.40" stroke="#111" stroke-width="1.7"/>
<text x="380.90" y="1855.72" font-size="12" font-weight="bold" stroke="#111" stroke-width="0.22" text-anchor="end" fill="#111">0.0</text>
<line x1="382.40" y1="1810.05" x2="386.90" y2="1810.05" stroke="#111" stroke-width="1.7"/>
<text x="380.90" y="1814.37" font-size="12" font-weight="bold" stroke="#111" stroke-width="0.22" text-anchor="end" fill="#111">0.5</text>
<line x1="382.40" y1="1768.70" x2="386.90" y2="1768.70" stroke="#111" stroke-width="1.7"/>
<text x="380.90" y="1773.02" font-size="12" font-weight="bold" stroke="#111" stroke-width="0.22" text-anchor="end" fill="#111">1.0</text>
<line x1="382.40" y1="1727.35" x2="386.90" y2="1727.35" stroke="#111" stroke-width="1.7"/>
<text x="380.90" y="1731.67" font-size="12" font-weight="bold" stroke="#111" stroke-width="0.22" text-anchor="end" fill="#111">1.5</text>
<line x1="382.40" y1="1686.00" x2="386.90" y2="1686.00" stroke="#111" stroke-width="1.7"/>
<text x="380.90" y="1690.32" font-size="12" font-weight="bold" stroke="#111" stroke-width="0.22" text-anchor="end" fill="#111">2.0</text>
<line x1="397.00" y1="1763.16" x2="397.00" y2="1768.70" stroke="#111" stroke-width="1.7"/>
<line x1="394.80" y1="1763.16" x2="399.20" y2="1763.16" stroke="#111" stroke-width="1.7"/>
<rect x="392.60" y="1768.70" width="8.80" height="82.70" fill="#fff" stroke="#111" stroke-width="1.7" stroke-linejoin="round"/>
<line x1="410.40" y1="1738.10" x2="410.40" y2="1743.64" stroke="#111" stroke-width="1.7"/>
<line x1="408.20" y1="1738.10" x2="412.60" y2="1738.10" stroke="#111" stroke-width="1.7"/>
<rect x="406.00" y="1743.64" width="8.80" height="107.76" fill="#000" stroke="#111" stroke-width="1.7" stroke-linejoin="round"/>
<clipPath id="g1158"><rect x="406.95" y="1744.59" width="6.90" height="106.06"/></clipPath>
<g clip-path="url(#g1158)" fill="#fff">
<rect x="406.85" y="1845.40" width="3.5" height="3.7"/>
<rect x="412.75" y="1845.40" width="3.5" height="3.7"/>
<rect x="406.85" y="1838.80" width="3.5" height="3.7"/>
<rect x="412.75" y="1838.80" width="3.5" height="3.7"/>
<rect x="406.85" y="1832.20" width="3.5" height="3.7"/>
<rect x="412.75" y="1832.20" width="3.5" height="3.7"/>
<rect x="406.85" y="1825.60" width="3.5" height="3.7"/>
<rect x="412.75" y="1825.60" width="3.5" height="3.7"/>
<rect x="406.85" y="1819.00" width="3.5" height="3.7"/>
<rect x="412.75" y="1819.00" width="3.5" height="3.7"/>
<rect x="406.85" y="1812.40" width="3.5" height="3.7"/>
<rect x="412.75" y="1812.40" width="3.5" height="3.7"/>
<rect x="406.85" y="1805.80" width="3.5" height="3.7"/>
<rect x="412.75" y="1805.80" width="3.5" height="3.7"/>
<rect x="406.85" y="1799.20" width="3.5" height="3.7"/>
<rect x="412.75" y="1799.20" width="3.5" height="3.7"/>
<rect x="406.85" y="1792.60" width="3.5" height="3.7"/>
<rect x="412.75" y="1792.60" width="3.5" height="3.7"/>
<rect x="406.85" y="1786.00" width="3.5" height="3.7"/>
<rect x="412.75" y="1786.00" width="3.5" height="3.7"/>
<rect x="406.85" y="1779.40" width="3.5" height="3.7"/>
<rect x="412.75" y="1779.40" width="3.5" height="3.7"/>
<rect x="406.85" y="1772.80" width="3.5" height="3.7"/>
<rect x="412.75" y="1772.80" width="3.5" height="3.7"/>
<rect x="406.85" y="1766.20" width="3.5" height="3.7"/>
<rect x="412.75" y="1766.20" width="3.5" height="3.7"/>
<rect x="406.85" y="1759.60" width="3.5" height="3.7"/>
<rect x="412.75" y="1759.60" width="3.5" height="3.7"/>
<rect x="406.85" y="1753.00" width="3.5" height="3.7"/>
<rect x="412.75" y="1753.00" width="3.5" height="3.7"/>
<rect x="406.85" y="1746.40" width="3.5" height="3.7"/>
<rect x="412.75" y="1746.40" width="3.5" height="3.7"/>
</g>
<polygon points="407.32,1731.50 408.05,1733.25 409.94,1733.40 408.50,1734.63 408.94,1736.47 407.32,1735.49 405.71,1736.47 406.15,1734.63 404.71,1733.40 406.60,1733.25" fill="#1a1a1a"/>
<polygon points="413.47,1731.50 414.20,1733.25 416.09,1733.40 414.65,1734.63 415.09,1736.47 413.47,1735.49 411.86,1736.47 412.30,1734.63 410.86,1733.40 412.75,1733.25" fill="#1a1a1a"/>
<line x1="423.80" y1="1743.89" x2="423.80" y2="1748.19" stroke="#111" stroke-width="1.7"/>
<line x1="421.60" y1="1743.89" x2="426.00" y2="1743.89" stroke="#111" stroke-width="1.7"/>
<rect x="419.40" y="1748.19" width="8.80" height="103.21" fill="url(#pdiag)" stroke="#111" stroke-width="1.7" stroke-linejoin="round"/>
<polygon points="420.73,1737.80 421.45,1739.55 423.34,1739.70 421.90,1740.93 422.34,1742.77 420.73,1741.79 419.11,1742.77 419.55,1740.93 418.11,1739.70 420.00,1739.55" fill="#1a1a1a"/>
<polygon points="426.88,1737.80 427.60,1739.55 429.49,1739.70 428.05,1740.93 428.49,1742.77 426.88,1741.79 425.26,1742.77 425.70,1740.93 424.26,1739.70 426.15,1739.55" fill="#1a1a1a"/>
<line x1="437.20" y1="1699.81" x2="437.20" y2="1705.02" stroke="#111" stroke-width="1.7"/>
<line x1="435.00" y1="1699.81" x2="439.40" y2="1699.81" stroke="#111" stroke-width="1.7"/>
<rect x="432.80" y="1705.02" width="8.80" height="146.38" fill="url(#pbrick)" stroke="#111" stroke-width="1.7" stroke-linejoin="round"/>
<polygon points="431.05,1693.10 431.78,1694.85 433.67,1695.00 432.23,1696.23 432.67,1698.07 431.05,1697.09 429.43,1698.07 429.87,1696.23 428.43,1695.00 430.32,1694.85" fill="#1a1a1a"/>
<polygon points="437.20,1693.10 437.93,1694.85 439.82,1695.00 438.38,1696.23 438.82,1698.07 437.20,1697.09 435.58,1698.07 436.02,1696.23 434.58,1695.00 436.47,1694.85" fill="#1a1a1a"/>
<polygon points="443.35,1693.10 444.08,1694.85 445.97,1695.00 444.53,1696.23 444.97,1698.07 443.35,1697.09 441.73,1698.07 442.17,1696.23 440.73,1695.00 442.62,1694.85" fill="#1a1a1a"/>
<line x1="417.10" y1="1851.40" x2="417.10" y2="1856.40" stroke="#111" stroke-width="1.7"/>
<text x="420.00" y="1867.00" font-size="12" font-weight="bold" stroke="#111" stroke-width="0.22" text-anchor="end" fill="#111" transform="rotate(-45 420.00 1867.00)">MMP2</text>
<line x1="458.90" y1="1762.41" x2="458.90" y2="1768.70" stroke="#111" stroke-width="1.7"/>
<line x1="456.70" y1="1762.41" x2="461.10" y2="1762.41" stroke="#111" stroke-width="1.7"/>
<rect x="454.50" y="1768.70" width="8.80" height="82.70" fill="#fff" stroke="#111" stroke-width="1.7" stroke-linejoin="round"/>
<line x1="472.30" y1="1719.91" x2="472.30" y2="1725.61" stroke="#111" stroke-width="1.7"/>
<line x1="470.10" y1="1719.91" x2="474.50" y2="1719.91" stroke="#111" stroke-width="1.7"/>
<rect x="467.90" y="1725.61" width="8.80" height="125.79" fill="#000" stroke="#111" stroke-width="1.7" stroke-linejoin="round"/>
<clipPath id="g1214"><rect x="468.85" y="1726.56" width="6.90" height="124.09"/></clipPath>
<g clip-path="url(#g1214)" fill="#fff">
<rect x="468.75" y="1845.40" width="3.5" height="3.7"/>
<rect x="474.65" y="1845.40" width="3.5" height="3.7"/>
<rect x="468.75" y="1838.80" width="3.5" height="3.7"/>
<rect x="474.65" y="1838.80" width="3.5" height="3.7"/>
<rect x="468.75" y="1832.20" width="3.5" height="3.7"/>
<rect x="474.65" y="1832.20" width="3.5" height="3.7"/>
<rect x="468.75" y="1825.60" width="3.5" height="3.7"/>
<rect x="474.65" y="1825.60" width="3.5" height="3.7"/>
<rect x="468.75" y="1819.00" width="3.5" height="3.7"/>
<rect x="474.65" y="1819.00" width="3.5" height="3.7"/>
<rect x="468.75" y="1812.40" width="3.5" height="3.7"/>
<rect x="474.65" y="1812.40" width="3.5" height="3.7"/>
<rect x="468.75" y="1805.80" width="3.5" height="3.7"/>
<rect x="474.65" y="1805.80" width="3.5" height="3.7"/>
<rect x="468.75" y="1799.20" width="3.5" height="3.7"/>
<rect x="474.65" y="1799.20" width="3.5" height="3.7"/>
<rect x="468.75" y="1792.60" width="3.5" height="3.7"/>
<rect x="474.65" y="1792.60" width="3.5" height="3.7"/>
<rect x="468.75" y="1786.00" width="3.5" height="3.7"/>
<rect x="474.65" y="1786.00" width="3.5" height="3.7"/>
<rect x="468.75" y="1779.40" width="3.5" height="3.7"/>
<rect x="474.65" y="1779.40" width="3.5" height="3.7"/>
<rect x="468.75" y="1772.80" width="3.5" height="3.7"/>
<rect x="474.65" y="1772.80" width="3.5" height="3.7"/>
<rect x="468.75" y="1766.20" width="3.5" height="3.7"/>
<rect x="474.65" y="1766.20" width="3.5" height="3.7"/>
<rect x="468.75" y="1759.60" width="3.5" height="3.7"/>
<rect x="474.65" y="1759.60" width="3.5" height="3.7"/>
<rect x="468.75" y="1753.00" width="3.5" height="3.7"/>
<rect x="474.65" y="1753.00" width="3.5" height="3.7"/>
<rect x="468.75" y="1746.40" width="3.5" height="3.7"/>
<rect x="474.65" y="1746.40" width="3.5" height="3.7"/>
<rect x="468.75" y="1739.80" width="3.5" height="3.7"/>
<rect x="474.65" y="1739.80" width="3.5" height="3.7"/>
<rect x="468.75" y="1733.20" width="3.5" height="3.7"/>
<rect x="474.65" y="1733.20" width="3.5" height="3.7"/>
<rect x="468.75" y="1726.60" width="3.5" height="3.7"/>
<rect x="474.65" y="1726.60" width="3.5" height="3.7"/>
</g>
<polygon points="465.15,1712.00 465.88,1713.75 467.77,1713.90 466.33,1715.13 466.77,1716.97 465.15,1715.99 463.53,1716.97 463.97,1715.13 462.53,1713.90 464.42,1713.75" fill="#1a1a1a"/>
<polygon points="471.30,1712.00 472.03,1713.75 473.92,1713.90 472.48,1715.13 472.92,1716.97 471.30,1715.99 469.68,1716.97 470.12,1715.13 468.68,1713.90 470.57,1713.75" fill="#1a1a1a"/>
<polygon points="477.45,1712.00 478.18,1713.75 480.07,1713.90 478.63,1715.13 479.07,1716.97 477.45,1715.99 475.83,1716.97 476.27,1715.13 474.83,1713.90 476.72,1713.75" fill="#1a1a1a"/>
<line x1="485.70" y1="1725.70" x2="485.70" y2="1730.66" stroke="#111" stroke-width="1.7"/>
<line x1="483.50" y1="1725.70" x2="487.90" y2="1725.70" stroke="#111" stroke-width="1.7"/>
<rect x="481.30" y="1730.66" width="8.80" height="120.74" fill="url(#pdiag)" stroke="#111" stroke-width="1.7" stroke-linejoin="round"/>
<polygon points="483.62,1719.00 484.35,1720.75 486.24,1720.90 484.80,1722.13 485.24,1723.97 483.62,1722.99 482.01,1723.97 482.45,1722.13 481.01,1720.90 482.90,1720.75" fill="#1a1a1a"/>
<polygon points="489.77,1719.00 490.50,1720.75 492.39,1720.90 490.95,1722.13 491.39,1723.97 489.77,1722.99 488.16,1723.97 488.60,1722.13 487.16,1720.90 489.05,1720.75" fill="#1a1a1a"/>
<line x1="499.10" y1="1706.84" x2="499.10" y2="1712.46" stroke="#111" stroke-width="1.7"/>
<line x1="496.90" y1="1706.84" x2="501.30" y2="1706.84" stroke="#111" stroke-width="1.7"/>
<rect x="494.70" y="1712.46" width="8.80" height="138.94" fill="url(#pbrick)" stroke="#111" stroke-width="1.7" stroke-linejoin="round"/>
<polygon points="492.95,1699.40 493.68,1701.15 495.57,1701.30 494.13,1702.53 494.57,1704.37 492.95,1703.39 491.33,1704.37 491.77,1702.53 490.33,1701.30 492.22,1701.15" fill="#1a1a1a"/>
<polygon points="499.10,1699.40 499.83,1701.15 501.72,1701.30 500.28,1702.53 500.72,1704.37 499.10,1703.39 497.48,1704.37 497.92,1702.53 496.48,1701.30 498.37,1701.15" fill="#1a1a1a"/>
<polygon points="505.25,1699.40 505.98,1701.15 507.87,1701.30 506.43,1702.53 506.87,1704.37 505.25,1703.39 503.63,1704.37 504.07,1702.53 502.63,1701.30 504.52,1701.15" fill="#1a1a1a"/>
<line x1="479.00" y1="1851.40" x2="479.00" y2="1856.40" stroke="#111" stroke-width="1.7"/>
<text x="482.00" y="1867.00" font-size="12" font-weight="bold" stroke="#111" stroke-width="0.22" text-anchor="end" fill="#111" transform="rotate(-45 482.00 1867.00)">MMP3</text>
<line x1="520.90" y1="1760.18" x2="520.90" y2="1768.70" stroke="#111" stroke-width="1.7"/>
<line x1="518.70" y1="1760.18" x2="523.10" y2="1760.18" stroke="#111" stroke-width="1.7"/>
<rect x="516.50" y="1768.70" width="8.80" height="82.70" fill="#fff" stroke="#111" stroke-width="1.7" stroke-linejoin="round"/>
<line x1="534.30" y1="1732.64" x2="534.30" y2="1738.10" stroke="#111" stroke-width="1.7"/>
<line x1="532.10" y1="1732.64" x2="536.50" y2="1732.64" stroke="#111" stroke-width="1.7"/>
<rect x="529.90" y="1738.10" width="8.80" height="113.30" fill="#000" stroke="#111" stroke-width="1.7" stroke-linejoin="round"/>
<clipPath id="g1277"><rect x="530.85" y="1739.05" width="6.90" height="111.60"/></clipPath>
<g clip-path="url(#g1277)" fill="#fff">
<rect x="530.75" y="1845.40" width="3.5" height="3.7"/>
<rect x="536.65" y="1845.40" width="3.5" height="3.7"/>
<rect x="530.75" y="1838.80" width="3.5" height="3.7"/>
<rect x="536.65" y="1838.80" width="3.5" height="3.7"/>
<rect x="530.75" y="1832.20" width="3.5" height="3.7"/>
<rect x="536.65" y="1832.20" width="3.5" height="3.7"/>
<rect x="530.75" y="1825.60" width="3.5" height="3.7"/>
<rect x="536.65" y="1825.60" width="3.5" height="3.7"/>
<rect x="530.75" y="1819.00" width="3.5" height="3.7"/>
<rect x="536.65" y="1819.00" width="3.5" height="3.7"/>
<rect x="530.75" y="1812.40" width="3.5" height="3.7"/>
<rect x="536.65" y="1812.40" width="3.5" height="3.7"/>
<rect x="530.75" y="1805.80" width="3.5" height="3.7"/>
<rect x="536.65" y="1805.80" width="3.5" height="3.7"/>
<rect x="530.75" y="1799.20" width="3.5" height="3.7"/>
<rect x="536.65" y="1799.20" width="3.5" height="3.7"/>
<rect x="530.75" y="1792.60" width="3.5" height="3.7"/>
<rect x="536.65" y="1792.60" width="3.5" height="3.7"/>
<rect x="530.75" y="1786.00" width="3.5" height="3.7"/>
<rect x="536.65" y="1786.00" width="3.5" height="3.7"/>
<rect x="530.75" y="1779.40" width="3.5" height="3.7"/>
<rect x="536.65" y="1779.40" width="3.5" height="3.7"/>
<rect x="530.75" y="1772.80" width="3.5" height="3.7"/>
<rect x="536.65" y="1772.80" width="3.5" height="3.7"/>
<rect x="530.75" y="1766.20" width="3.5" height="3.7"/>
<rect x="536.65" y="1766.20" width="3.5" height="3.7"/>
<rect x="530.75" y="1759.60" width="3.5" height="3.7"/>
<rect x="536.65" y="1759.60" width="3.5" height="3.7"/>
<rect x="530.75" y="1753.00" width="3.5" height="3.7"/>
<rect x="536.65" y="1753.00" width="3.5" height="3.7"/>
<rect x="530.75" y="1746.40" width="3.5" height="3.7"/>
<rect x="536.65" y="1746.40" width="3.5" height="3.7"/>
<rect x="530.75" y="1739.80" width="3.5" height="3.7"/>
<rect x="536.65" y="1739.80" width="3.5" height="3.7"/>
</g>
<polygon points="531.22,1726.50 531.95,1728.25 533.84,1728.40 532.40,1729.63 532.84,1731.47 531.22,1730.49 529.61,1731.47 530.05,1729.63 528.61,1728.40 530.50,1728.25" fill="#1a1a1a"/>
<polygon points="537.38,1726.50 538.10,1728.25 539.99,1728.40 538.55,1729.63 538.99,1731.47 537.38,1730.49 535.76,1731.47 536.20,1729.63 534.76,1728.40 536.65,1728.25" fill="#1a1a1a"/>
<line x1="547.70" y1="1725.61" x2="547.70" y2="1730.66" stroke="#111" stroke-width="1.7"/>
<line x1="545.50" y1="1725.61" x2="549.90" y2="1725.61" stroke="#111" stroke-width="1.7"/>
<rect x="543.30" y="1730.66" width="8.80" height="120.74" fill="url(#pdiag)" stroke="#111" stroke-width="1.7" stroke-linejoin="round"/>
<polygon points="544.62,1718.20 545.35,1719.95 547.24,1720.10 545.80,1721.33 546.24,1723.17 544.62,1722.19 543.01,1723.17 543.45,1721.33 542.01,1720.10 543.90,1719.95" fill="#1a1a1a"/>
<polygon points="550.77,1718.20 551.50,1719.95 553.39,1720.10 551.95,1721.33 552.39,1723.17 550.77,1722.19 549.16,1723.17 549.60,1721.33 548.16,1720.10 550.05,1719.95" fill="#1a1a1a"/>
<line x1="561.10" y1="1718.83" x2="561.10" y2="1723.88" stroke="#111" stroke-width="1.7"/>
<line x1="558.90" y1="1718.83" x2="563.30" y2="1718.83" stroke="#111" stroke-width="1.7"/>
<rect x="556.70" y="1723.88" width="8.80" height="127.52" fill="url(#pbrick)" stroke="#111" stroke-width="1.7" stroke-linejoin="round"/>
<polygon points="558.02,1712.20 558.75,1713.95 560.64,1714.10 559.20,1715.33 559.64,1717.17 558.02,1716.19 556.41,1717.17 556.85,1715.33 555.41,1714.10 557.30,1713.95" fill="#1a1a1a"/>
<polygon points="564.18,1712.20 564.90,1713.95 566.79,1714.10 565.35,1715.33 565.79,1717.17 564.18,1716.19 562.56,1717.17 563.00,1715.33 561.56,1714.10 563.45,1713.95" fill="#1a1a1a"/>
<line x1="541.00" y1="1851.40" x2="541.00" y2="1856.40" stroke="#111" stroke-width="1.7"/>
<text x="543.50" y="1867.00" font-size="12" font-weight="bold" stroke="#111" stroke-width="0.22" text-anchor="end" fill="#111" transform="rotate(-45 543.50 1867.00)">MMP9</text>
<line x1="583.40" y1="1765.72" x2="583.40" y2="1768.70" stroke="#111" stroke-width="1.7"/>
<line x1="581.20" y1="1765.72" x2="585.60" y2="1765.72" stroke="#111" stroke-width="1.7"/>
<rect x="579.00" y="1768.70" width="8.80" height="82.70" fill="#fff" stroke="#111" stroke-width="1.7" stroke-linejoin="round"/>
<line x1="596.80" y1="1778.71" x2="596.80" y2="1783.26" stroke="#111" stroke-width="1.7"/>
<line x1="594.60" y1="1778.71" x2="599.00" y2="1778.71" stroke="#111" stroke-width="1.7"/>
<rect x="592.40" y="1783.26" width="8.80" height="68.14" fill="#000" stroke="#111" stroke-width="1.7" stroke-linejoin="round"/>
<clipPath id="g1334"><rect x="593.35" y="1784.21" width="6.90" height="66.44"/></clipPath>
<g clip-path="url(#g1334)" fill="#fff">
<rect x="593.25" y="1845.40" width="3.5" height="3.7"/>
<rect x="599.15" y="1845.40" width="3.5" height="3.7"/>
<rect x="593.25" y="1838.80" width="3.5" height="3.7"/>
<rect x="599.15" y="1838.80" width="3.5" height="3.7"/>
<rect x="593.25" y="1832.20" width="3.5" height="3.7"/>
<rect x="599.15" y="1832.20" width="3.5" height="3.7"/>
<rect x="593.25" y="1825.60" width="3.5" height="3.7"/>
<rect x="599.15" y="1825.60" width="3.5" height="3.7"/>
<rect x="593.25" y="1819.00" width="3.5" height="3.7"/>
<rect x="599.15" y="1819.00" width="3.5" height="3.7"/>
<rect x="593.25" y="1812.40" width="3.5" height="3.7"/>
<rect x="599.15" y="1812.40" width="3.5" height="3.7"/>
<rect x="593.25" y="1805.80" width="3.5" height="3.7"/>
<rect x="599.15" y="1805.80" width="3.5" height="3.7"/>
<rect x="593.25" y="1799.20" width="3.5" height="3.7"/>
<rect x="599.15" y="1799.20" width="3.5" height="3.7"/>
<rect x="593.25" y="1792.60" width="3.5" height="3.7"/>
<rect x="599.15" y="1792.60" width="3.5" height="3.7"/>
<rect x="593.25" y="1786.00" width="3.5" height="3.7"/>
<rect x="599.15" y="1786.00" width="3.5" height="3.7"/>
</g>
<polygon points="593.72,1773.00 594.45,1774.75 596.34,1774.90 594.90,1776.13 595.34,1777.97 593.72,1776.99 592.11,1777.97 592.55,1776.13 591.11,1774.90 593.00,1774.75" fill="#1a1a1a"/>
<polygon points="599.88,1773.00 600.60,1774.75 602.49,1774.90 601.05,1776.13 601.49,1777.97 599.88,1776.99 598.26,1777.97 598.70,1776.13 597.26,1774.90 599.15,1774.75" fill="#1a1a1a"/>
<line x1="610.20" y1="1785.74" x2="610.20" y2="1788.96" stroke="#111" stroke-width="1.7"/>
<line x1="608.00" y1="1785.74" x2="612.40" y2="1785.74" stroke="#111" stroke-width="1.7"/>
<rect x="605.80" y="1788.96" width="8.80" height="62.44" fill="url(#pdiag)" stroke="#111" stroke-width="1.7" stroke-linejoin="round"/>
<polygon points="607.12,1779.70 607.85,1781.45 609.74,1781.60 608.30,1782.83 608.74,1784.67 607.12,1783.69 605.51,1784.67 605.95,1782.83 604.51,1781.60 606.40,1781.45" fill="#1a1a1a"/>
<polygon points="613.27,1779.70 614.00,1781.45 615.89,1781.60 614.45,1782.83 614.89,1784.67 613.27,1783.69 611.66,1784.67 612.10,1782.83 610.66,1781.60 612.55,1781.45" fill="#1a1a1a"/>
<line x1="623.60" y1="1798.80" x2="623.60" y2="1802.03" stroke="#111" stroke-width="1.7"/>
<line x1="621.40" y1="1798.80" x2="625.80" y2="1798.80" stroke="#111" stroke-width="1.7"/>
<rect x="619.20" y="1802.03" width="8.80" height="49.37" fill="url(#pbrick)" stroke="#111" stroke-width="1.7" stroke-linejoin="round"/>
<polygon points="617.45,1793.10 618.18,1794.85 620.07,1795.00 618.63,1796.23 619.07,1798.07 617.45,1797.09 615.83,1798.07 616.27,1796.23 614.83,1795.00 616.72,1794.85" fill="#1a1a1a"/>
<polygon points="623.60,1793.10 624.33,1794.85 626.22,1795.00 624.78,1796.23 625.22,1798.07 623.60,1797.09 621.98,1798.07 622.42,1796.23 620.98,1795.00 622.87,1794.85" fill="#1a1a1a"/>
<polygon points="629.75,1793.10 630.48,1794.85 632.37,1795.00 630.93,1796.23 631.37,1798.07 629.75,1797.09 628.13,1798.07 628.57,1796.23 627.13,1795.00 629.02,1794.85" fill="#1a1a1a"/>
<line x1="603.50" y1="1851.40" x2="603.50" y2="1856.40" stroke="#111" stroke-width="1.7"/>
<text x="606.00" y="1867.00" font-size="12" font-weight="bold" stroke="#111" stroke-width="0.22" text-anchor="end" fill="#111" transform="rotate(-45 606.00 1867.00)">TIMP4</text>
<line x1="410.80" y1="1683.20" x2="437.40" y2="1683.20" stroke="#111" stroke-width="1.7"/>
<line x1="410.80" y1="1676.00" x2="410.80" y2="1690.40" stroke="#111" stroke-width="1.7"/>
<line x1="437.40" y1="1676.00" x2="437.40" y2="1690.40" stroke="#111" stroke-width="1.7"/>
<text x="423.65" y="1681.83" font-size="9.8" font-weight="bold" stroke="#111" stroke-width="0.45" text-anchor="middle" fill="#111" letter-spacing="-0.9">##</text>
<line x1="472.80" y1="1692.00" x2="498.70" y2="1692.00" stroke="#111" stroke-width="1.7"/>
<line x1="472.80" y1="1684.80" x2="472.80" y2="1699.20" stroke="#111" stroke-width="1.7"/>
<line x1="498.70" y1="1684.80" x2="498.70" y2="1699.20" stroke="#111" stroke-width="1.7"/>
<text x="485.30" y="1690.63" font-size="9.8" font-weight="bold" stroke="#111" stroke-width="0.45" text-anchor="middle" fill="#111" letter-spacing="-0.9">#</text>
<line x1="535.10" y1="1702.00" x2="561.50" y2="1702.00" stroke="#111" stroke-width="1.7"/>
<line x1="535.10" y1="1694.80" x2="535.10" y2="1709.20" stroke="#111" stroke-width="1.7"/>
<line x1="561.50" y1="1694.80" x2="561.50" y2="1709.20" stroke="#111" stroke-width="1.7"/>
<text x="547.85" y="1700.63" font-size="9.8" font-weight="bold" stroke="#111" stroke-width="0.45" text-anchor="middle" fill="#111" letter-spacing="-0.9">#</text>
<line x1="595.90" y1="1763.00" x2="622.20" y2="1763.00" stroke="#111" stroke-width="1.7"/>
<line x1="595.90" y1="1755.80" x2="595.90" y2="1770.20" stroke="#111" stroke-width="1.7"/>
<line x1="622.20" y1="1755.80" x2="622.20" y2="1770.20" stroke="#111" stroke-width="1.7"/>
<text x="608.60" y="1761.63" font-size="9.8" font-weight="bold" stroke="#111" stroke-width="0.45" text-anchor="middle" fill="#111" letter-spacing="-0.9">##</text>
<text x="355.20" y="1769.30" font-size="12.0" font-weight="bold" stroke="#111" stroke-width="0.22" text-anchor="middle" fill="#111" transform="rotate(-90 355.20 1769.30)">Relative ratio of Protein/GAPDH</text>
</g></svg>
</body></html>
